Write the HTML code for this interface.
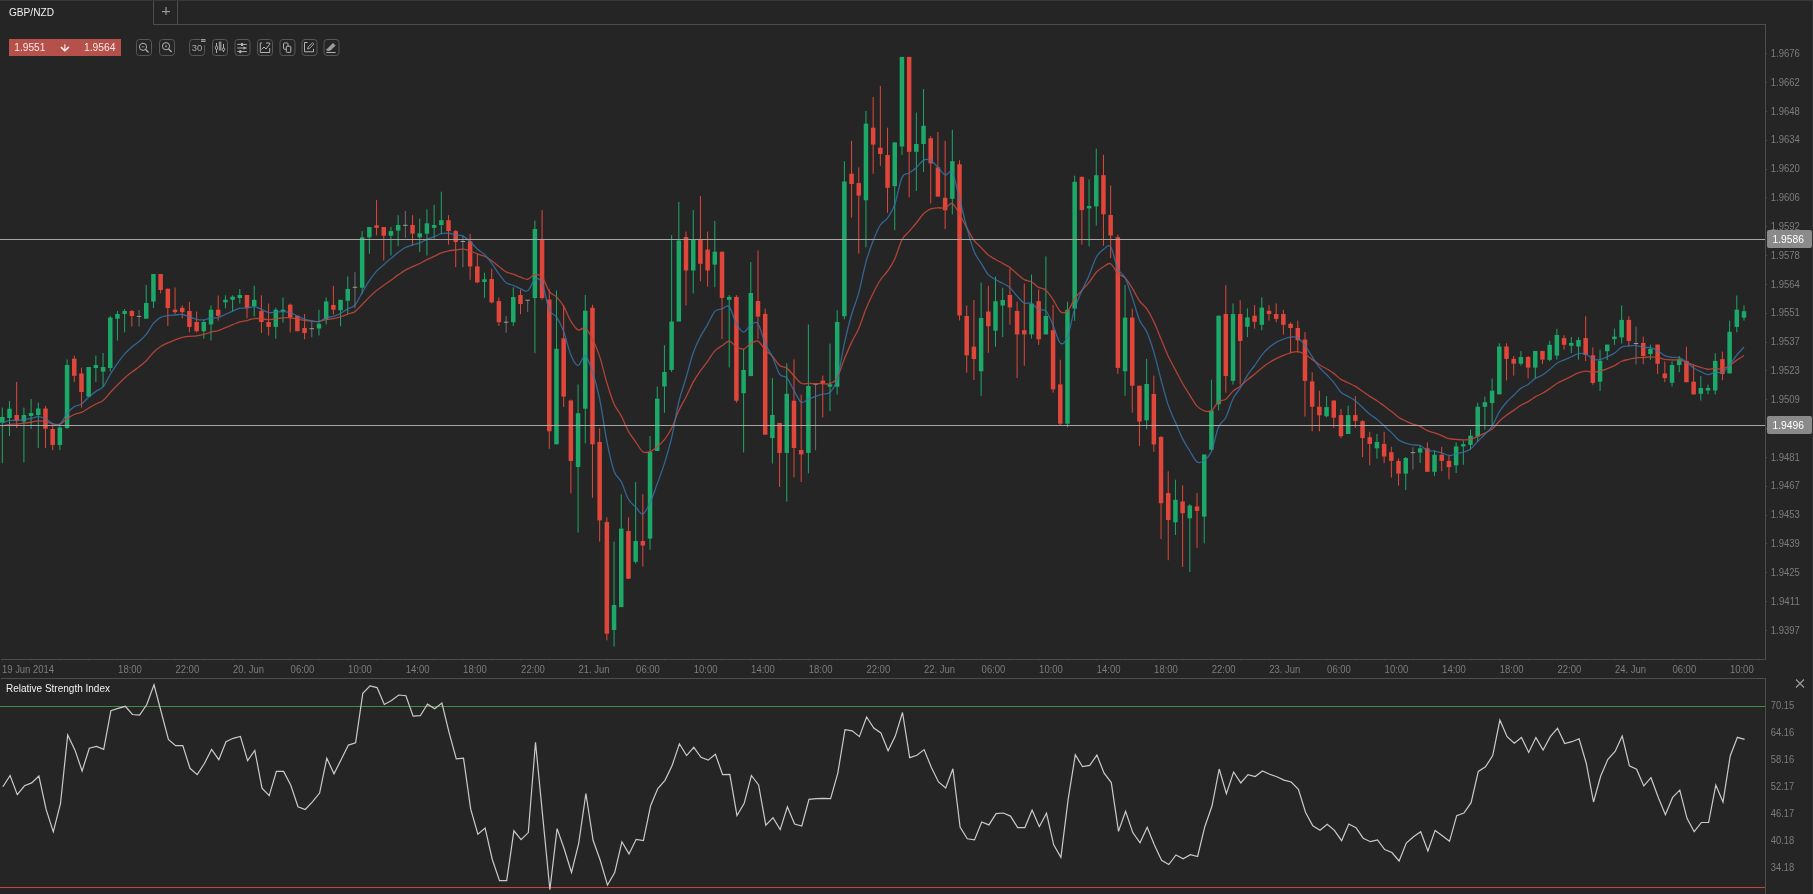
<!DOCTYPE html>
<html><head><meta charset="utf-8"><style>
html,body{margin:0;padding:0;background:#252525;width:1813px;height:894px;overflow:hidden;font-family:"Liberation Sans",sans-serif}
</style></head><body>
<svg width="1813" height="894" viewBox="0 0 1813 894" style="position:absolute;left:0;top:0;will-change:transform"><rect x="0" y="0" width="1813" height="1" fill="#383838"/><rect x="1812" y="0" width="1" height="894" fill="#333333"/><text x="9.0" y="16.0" font-size="11" fill="#f2f2f2" textLength="45" lengthAdjust="spacingAndGlyphs" font-family="Liberation Sans, sans-serif">GBP/NZD</text><rect x="153" y="1" width="1" height="23" fill="#4d4d4d"/><rect x="177" y="1" width="1" height="23" fill="#4d4d4d"/><rect x="153" y="24" width="1613" height="1" fill="#4d4d4d"/><rect x="162" y="11" width="8" height="1.2" fill="#999"/><rect x="165.4" y="7" width="1.2" height="8" fill="#999"/><rect x="1765" y="24" width="1" height="636" fill="#4d4d4d"/><rect x="1" y="659" width="1765" height="1" fill="#4d4d4d"/><rect x="1" y="678" width="1765" height="1" fill="#4d4d4d"/><rect x="1765" y="678" width="1" height="216" fill="#4d4d4d"/><rect x="1.80" y="407.6" width="1" height="55.6" fill="#1ca868"/><rect x="0.05" y="417.0" width="4.5" height="5.6" fill="#1ca868"/><rect x="9.00" y="401.0" width="1" height="35.0" fill="#1ca868"/><rect x="7.25" y="408.7" width="4.5" height="9.3" fill="#1ca868"/><rect x="16.19" y="382.0" width="1" height="46.0" fill="#e0473a"/><rect x="14.44" y="415.0" width="4.5" height="6.0" fill="#e0473a"/><rect x="23.39" y="407.6" width="1" height="54.9" fill="#1ca868"/><rect x="21.64" y="415.0" width="4.5" height="6.6" fill="#1ca868"/><rect x="30.59" y="399.0" width="1" height="30.0" fill="#1ca868"/><rect x="28.84" y="413.0" width="4.5" height="3.0" fill="#1ca868"/><rect x="37.79" y="402.6" width="1" height="45.4" fill="#1ca868"/><rect x="36.04" y="408.5" width="4.5" height="6.5" fill="#1ca868"/><rect x="44.98" y="405.7" width="1" height="42.3" fill="#e0473a"/><rect x="43.23" y="408.5" width="4.5" height="20.2" fill="#e0473a"/><rect x="52.18" y="424.5" width="1" height="25.5" fill="#e0473a"/><rect x="50.43" y="429.0" width="4.5" height="16.0" fill="#e0473a"/><rect x="59.38" y="424.5" width="1" height="25.5" fill="#1ca868"/><rect x="57.63" y="427.5" width="4.5" height="17.5" fill="#1ca868"/><rect x="66.57" y="359.4" width="1" height="69.6" fill="#1ca868"/><rect x="64.82" y="365.0" width="4.5" height="63.0" fill="#1ca868"/><rect x="73.77" y="355.6" width="1" height="26.4" fill="#e0473a"/><rect x="72.02" y="358.7" width="4.5" height="17.1" fill="#e0473a"/><rect x="80.97" y="367.6" width="1" height="40.0" fill="#e0473a"/><rect x="79.22" y="373.5" width="4.5" height="18.5" fill="#e0473a"/><rect x="88.17" y="367.0" width="1" height="29.7" fill="#1ca868"/><rect x="86.42" y="367.0" width="4.5" height="29.7" fill="#1ca868"/><rect x="95.36" y="355.6" width="1" height="26.4" fill="#1ca868"/><rect x="93.61" y="365.0" width="4.5" height="3.0" fill="#1ca868"/><rect x="102.56" y="353.0" width="1" height="34.0" fill="#1ca868"/><rect x="100.81" y="367.0" width="4.5" height="4.6" fill="#1ca868"/><rect x="109.76" y="316.0" width="1" height="55.6" fill="#1ca868"/><rect x="108.01" y="317.6" width="4.5" height="50.4" fill="#1ca868"/><rect x="116.95" y="311.0" width="1" height="29.6" fill="#1ca868"/><rect x="115.20" y="314.0" width="4.5" height="4.7" fill="#1ca868"/><rect x="124.15" y="309.0" width="1" height="23.4" fill="#1ca868"/><rect x="122.40" y="311.0" width="4.5" height="3.0" fill="#1ca868"/><rect x="131.35" y="310.0" width="1" height="16.5" fill="#e0473a"/><rect x="129.60" y="311.0" width="4.5" height="5.0" fill="#e0473a"/><rect x="138.55" y="310.0" width="1" height="16.5" fill="#6e6e6e"/><rect x="136.80" y="315.9" width="4.5" height="1.0" fill="#9a9a9a"/><rect x="145.74" y="285.0" width="1" height="33.7" fill="#1ca868"/><rect x="143.99" y="303.0" width="4.5" height="15.7" fill="#1ca868"/><rect x="152.94" y="274.0" width="1" height="34.0" fill="#1ca868"/><rect x="151.19" y="274.0" width="4.5" height="27.6" fill="#1ca868"/><rect x="160.14" y="274.0" width="1" height="19.4" fill="#e0473a"/><rect x="158.39" y="274.0" width="4.5" height="16.0" fill="#e0473a"/><rect x="167.33" y="288.7" width="1" height="37.3" fill="#e0473a"/><rect x="165.58" y="288.7" width="4.5" height="19.3" fill="#e0473a"/><rect x="174.53" y="287.5" width="1" height="26.5" fill="#e0473a"/><rect x="172.78" y="309.7" width="4.5" height="2.4" fill="#e0473a"/><rect x="181.73" y="305.4" width="1" height="12.9" fill="#e0473a"/><rect x="179.98" y="307.8" width="4.5" height="4.3" fill="#e0473a"/><rect x="188.92" y="301.7" width="1" height="30.7" fill="#e0473a"/><rect x="187.17" y="311.0" width="4.5" height="15.9" fill="#e0473a"/><rect x="196.12" y="311.5" width="1" height="20.9" fill="#e0473a"/><rect x="194.37" y="322.0" width="4.5" height="9.2" fill="#e0473a"/><rect x="203.32" y="320.0" width="1" height="18.6" fill="#1ca868"/><rect x="201.57" y="322.0" width="4.5" height="9.2" fill="#1ca868"/><rect x="210.52" y="305.4" width="1" height="35.0" fill="#1ca868"/><rect x="208.77" y="309.7" width="4.5" height="14.7" fill="#1ca868"/><rect x="217.71" y="295.5" width="1" height="25.2" fill="#e0473a"/><rect x="215.96" y="309.7" width="4.5" height="6.1" fill="#e0473a"/><rect x="224.91" y="295.3" width="1" height="13.1" fill="#1ca868"/><rect x="223.16" y="299.8" width="4.5" height="2.5" fill="#1ca868"/><rect x="232.11" y="295.3" width="1" height="16.2" fill="#1ca868"/><rect x="230.36" y="296.7" width="4.5" height="3.1" fill="#1ca868"/><rect x="239.30" y="289.0" width="1" height="14.5" fill="#1ca868"/><rect x="237.55" y="295.0" width="4.5" height="3.0" fill="#1ca868"/><rect x="246.50" y="295.0" width="1" height="23.3" fill="#e0473a"/><rect x="244.75" y="295.0" width="4.5" height="12.8" fill="#e0473a"/><rect x="253.70" y="285.7" width="1" height="30.7" fill="#1ca868"/><rect x="251.95" y="299.8" width="4.5" height="6.2" fill="#1ca868"/><rect x="260.90" y="295.3" width="1" height="37.7" fill="#e0473a"/><rect x="259.15" y="311.0" width="4.5" height="11.0" fill="#e0473a"/><rect x="268.09" y="303.5" width="1" height="32.0" fill="#e0473a"/><rect x="266.34" y="322.0" width="4.5" height="4.9" fill="#e0473a"/><rect x="275.29" y="307.8" width="1" height="30.8" fill="#1ca868"/><rect x="273.54" y="309.7" width="4.5" height="17.2" fill="#1ca868"/><rect x="282.49" y="297.4" width="1" height="25.2" fill="#1ca868"/><rect x="280.74" y="309.7" width="4.5" height="1.8" fill="#1ca868"/><rect x="289.68" y="303.5" width="1" height="28.9" fill="#e0473a"/><rect x="287.93" y="304.7" width="4.5" height="13.0" fill="#e0473a"/><rect x="296.88" y="315.8" width="1" height="15.4" fill="#e0473a"/><rect x="295.13" y="315.8" width="4.5" height="15.4" fill="#e0473a"/><rect x="304.08" y="314.0" width="1" height="25.2" fill="#e0473a"/><rect x="302.33" y="328.0" width="4.5" height="5.0" fill="#e0473a"/><rect x="311.28" y="321.4" width="1" height="16.0" fill="#6e6e6e"/><rect x="309.53" y="328.2" width="4.5" height="1.0" fill="#9a9a9a"/><rect x="318.47" y="309.7" width="1" height="25.8" fill="#1ca868"/><rect x="316.72" y="323.8" width="4.5" height="4.7" fill="#1ca868"/><rect x="325.67" y="297.4" width="1" height="27.0" fill="#1ca868"/><rect x="323.92" y="301.4" width="4.5" height="18.1" fill="#1ca868"/><rect x="332.87" y="285.7" width="1" height="28.9" fill="#e0473a"/><rect x="331.12" y="305.0" width="4.5" height="4.7" fill="#e0473a"/><rect x="340.06" y="299.8" width="1" height="26.5" fill="#1ca868"/><rect x="338.31" y="299.8" width="4.5" height="10.5" fill="#1ca868"/><rect x="347.26" y="276.4" width="1" height="37.8" fill="#1ca868"/><rect x="345.51" y="289.0" width="4.5" height="11.8" fill="#1ca868"/><rect x="354.46" y="272.2" width="1" height="36.1" fill="#6e6e6e"/><rect x="352.71" y="286.8" width="4.5" height="1.0" fill="#9a9a9a"/><rect x="361.66" y="231.1" width="1" height="62.9" fill="#1ca868"/><rect x="359.91" y="237.3" width="4.5" height="50.4" fill="#1ca868"/><rect x="368.85" y="227.0" width="1" height="26.8" fill="#1ca868"/><rect x="367.10" y="227.0" width="4.5" height="10.3" fill="#1ca868"/><rect x="376.05" y="200.1" width="1" height="35.2" fill="#e0473a"/><rect x="374.30" y="225.3" width="4.5" height="2.5" fill="#e0473a"/><rect x="383.25" y="227.0" width="1" height="33.5" fill="#e0473a"/><rect x="381.50" y="227.0" width="4.5" height="8.7" fill="#e0473a"/><rect x="390.44" y="227.0" width="1" height="28.5" fill="#1ca868"/><rect x="388.69" y="231.1" width="4.5" height="4.6" fill="#1ca868"/><rect x="397.64" y="215.2" width="1" height="31.0" fill="#1ca868"/><rect x="395.89" y="225.0" width="4.5" height="5.6" fill="#1ca868"/><rect x="404.84" y="211.0" width="1" height="26.9" fill="#6e6e6e"/><rect x="403.09" y="224.8" width="4.5" height="1.0" fill="#9a9a9a"/><rect x="412.04" y="215.2" width="1" height="30.2" fill="#e0473a"/><rect x="410.29" y="225.0" width="4.5" height="8.7" fill="#e0473a"/><rect x="419.23" y="218.6" width="1" height="33.5" fill="#1ca868"/><rect x="417.48" y="233.3" width="4.5" height="4.0" fill="#1ca868"/><rect x="426.43" y="209.3" width="1" height="46.2" fill="#1ca868"/><rect x="424.68" y="223.3" width="4.5" height="10.4" fill="#1ca868"/><rect x="433.63" y="204.8" width="1" height="33.9" fill="#1ca868"/><rect x="431.88" y="225.0" width="4.5" height="2.8" fill="#1ca868"/><rect x="440.82" y="191.7" width="1" height="42.0" fill="#1ca868"/><rect x="439.07" y="220.2" width="4.5" height="4.8" fill="#1ca868"/><rect x="448.02" y="215.2" width="1" height="29.4" fill="#e0473a"/><rect x="446.27" y="220.2" width="4.5" height="10.9" fill="#e0473a"/><rect x="455.22" y="230.0" width="1" height="37.2" fill="#e0473a"/><rect x="453.47" y="231.1" width="4.5" height="10.9" fill="#e0473a"/><rect x="462.41" y="235.3" width="1" height="31.9" fill="#6e6e6e"/><rect x="460.66" y="241.0" width="4.5" height="1.0" fill="#9a9a9a"/><rect x="469.61" y="233.7" width="1" height="46.1" fill="#e0473a"/><rect x="467.86" y="241.2" width="4.5" height="25.2" fill="#e0473a"/><rect x="476.81" y="253.8" width="1" height="29.4" fill="#e0473a"/><rect x="475.06" y="266.4" width="4.5" height="15.9" fill="#e0473a"/><rect x="484.01" y="272.6" width="1" height="25.2" fill="#1ca868"/><rect x="482.26" y="279.3" width="4.5" height="2.7" fill="#1ca868"/><rect x="491.20" y="268.6" width="1" height="34.7" fill="#e0473a"/><rect x="489.45" y="279.0" width="4.5" height="23.4" fill="#e0473a"/><rect x="498.40" y="297.4" width="1" height="28.6" fill="#e0473a"/><rect x="496.65" y="301.1" width="4.5" height="21.1" fill="#e0473a"/><rect x="505.60" y="315.9" width="1" height="16.8" fill="#6e6e6e"/><rect x="503.85" y="321.7" width="4.5" height="1.0" fill="#9a9a9a"/><rect x="512.79" y="287.3" width="1" height="38.7" fill="#1ca868"/><rect x="511.04" y="297.0" width="4.5" height="25.2" fill="#1ca868"/><rect x="519.99" y="289.5" width="1" height="24.6" fill="#e0473a"/><rect x="518.24" y="295.0" width="4.5" height="9.0" fill="#e0473a"/><rect x="527.19" y="300.2" width="1" height="11.7" fill="#6e6e6e"/><rect x="525.44" y="299.7" width="4.5" height="1.0" fill="#9a9a9a"/><rect x="534.39" y="220.6" width="1" height="132.6" fill="#1ca868"/><rect x="532.64" y="229.0" width="4.5" height="69.0" fill="#1ca868"/><rect x="541.58" y="210.0" width="1" height="89.6" fill="#e0473a"/><rect x="539.83" y="239.8" width="4.5" height="58.2" fill="#e0473a"/><rect x="548.78" y="289.5" width="1" height="159.4" fill="#e0473a"/><rect x="547.03" y="299.6" width="4.5" height="131.7" fill="#e0473a"/><rect x="555.98" y="290.6" width="1" height="153.7" fill="#1ca868"/><rect x="554.23" y="348.8" width="4.5" height="95.5" fill="#1ca868"/><rect x="563.17" y="305.0" width="1" height="102.0" fill="#e0473a"/><rect x="561.42" y="338.3" width="4.5" height="58.3" fill="#e0473a"/><rect x="570.37" y="399.6" width="1" height="93.7" fill="#e0473a"/><rect x="568.62" y="400.5" width="4.5" height="60.5" fill="#e0473a"/><rect x="577.57" y="384.5" width="1" height="148.0" fill="#1ca868"/><rect x="575.82" y="413.2" width="4.5" height="53.8" fill="#1ca868"/><rect x="584.77" y="295.0" width="1" height="148.4" fill="#1ca868"/><rect x="583.02" y="310.7" width="4.5" height="98.0" fill="#1ca868"/><rect x="591.96" y="304.7" width="1" height="193.1" fill="#e0473a"/><rect x="590.21" y="307.8" width="4.5" height="136.5" fill="#e0473a"/><rect x="599.16" y="428.3" width="1" height="113.3" fill="#e0473a"/><rect x="597.41" y="441.9" width="4.5" height="78.5" fill="#e0473a"/><rect x="606.36" y="517.4" width="1" height="122.9" fill="#e0473a"/><rect x="604.61" y="522.0" width="4.5" height="111.7" fill="#e0473a"/><rect x="613.55" y="541.6" width="1" height="104.8" fill="#1ca868"/><rect x="611.80" y="605.0" width="4.5" height="25.0" fill="#1ca868"/><rect x="620.75" y="494.2" width="1" height="112.9" fill="#1ca868"/><rect x="619.00" y="528.6" width="4.5" height="78.5" fill="#1ca868"/><rect x="627.95" y="517.4" width="1" height="61.3" fill="#e0473a"/><rect x="626.20" y="531.0" width="4.5" height="47.7" fill="#e0473a"/><rect x="635.15" y="482.0" width="1" height="81.6" fill="#1ca868"/><rect x="633.40" y="541.0" width="4.5" height="20.8" fill="#1ca868"/><rect x="642.34" y="494.2" width="1" height="72.4" fill="#e0473a"/><rect x="640.59" y="541.0" width="4.5" height="4.5" fill="#e0473a"/><rect x="649.54" y="435.9" width="1" height="113.8" fill="#1ca868"/><rect x="647.79" y="451.9" width="4.5" height="86.7" fill="#1ca868"/><rect x="656.74" y="386.6" width="1" height="64.4" fill="#1ca868"/><rect x="654.99" y="398.7" width="4.5" height="52.3" fill="#1ca868"/><rect x="663.93" y="345.2" width="1" height="67.6" fill="#1ca868"/><rect x="662.18" y="372.0" width="4.5" height="14.5" fill="#1ca868"/><rect x="671.13" y="235.1" width="1" height="136.9" fill="#1ca868"/><rect x="669.38" y="321.5" width="4.5" height="48.4" fill="#1ca868"/><rect x="678.33" y="202.0" width="1" height="119.5" fill="#1ca868"/><rect x="676.58" y="240.5" width="4.5" height="81.0" fill="#1ca868"/><rect x="685.53" y="231.6" width="1" height="73.8" fill="#e0473a"/><rect x="683.78" y="237.0" width="4.5" height="33.5" fill="#e0473a"/><rect x="692.72" y="210.1" width="1" height="83.3" fill="#1ca868"/><rect x="690.97" y="239.7" width="4.5" height="30.8" fill="#1ca868"/><rect x="699.92" y="195.9" width="1" height="85.4" fill="#e0473a"/><rect x="698.17" y="239.7" width="4.5" height="24.1" fill="#e0473a"/><rect x="707.12" y="231.6" width="1" height="55.0" fill="#e0473a"/><rect x="705.37" y="249.6" width="4.5" height="20.9" fill="#e0473a"/><rect x="714.31" y="220.9" width="1" height="66.3" fill="#1ca868"/><rect x="712.56" y="251.7" width="4.5" height="12.9" fill="#1ca868"/><rect x="721.51" y="251.7" width="1" height="87.3" fill="#e0473a"/><rect x="719.76" y="251.7" width="4.5" height="46.2" fill="#e0473a"/><rect x="728.71" y="295.0" width="1" height="72.5" fill="#1ca868"/><rect x="726.96" y="296.9" width="4.5" height="2.9" fill="#1ca868"/><rect x="735.90" y="295.2" width="1" height="107.5" fill="#e0473a"/><rect x="734.15" y="296.9" width="4.5" height="103.8" fill="#e0473a"/><rect x="743.10" y="349.0" width="1" height="103.4" fill="#1ca868"/><rect x="741.35" y="370.0" width="4.5" height="23.3" fill="#1ca868"/><rect x="750.30" y="262.0" width="1" height="114.1" fill="#1ca868"/><rect x="748.55" y="293.0" width="4.5" height="83.1" fill="#1ca868"/><rect x="757.50" y="250.4" width="1" height="88.6" fill="#e0473a"/><rect x="755.75" y="301.0" width="4.5" height="15.6" fill="#e0473a"/><rect x="764.69" y="308.5" width="1" height="126.2" fill="#e0473a"/><rect x="762.94" y="313.9" width="4.5" height="120.8" fill="#e0473a"/><rect x="771.89" y="378.0" width="1" height="85.5" fill="#1ca868"/><rect x="770.14" y="415.0" width="4.5" height="23.1" fill="#1ca868"/><rect x="779.09" y="422.9" width="1" height="64.0" fill="#e0473a"/><rect x="777.34" y="422.9" width="4.5" height="30.0" fill="#e0473a"/><rect x="786.28" y="363.3" width="1" height="138.3" fill="#1ca868"/><rect x="784.53" y="393.8" width="4.5" height="59.1" fill="#1ca868"/><rect x="793.48" y="359.4" width="1" height="118.1" fill="#e0473a"/><rect x="791.73" y="400.7" width="4.5" height="47.3" fill="#e0473a"/><rect x="800.68" y="394.6" width="1" height="87.4" fill="#e0473a"/><rect x="798.93" y="450.0" width="4.5" height="4.4" fill="#e0473a"/><rect x="807.88" y="324.4" width="1" height="148.9" fill="#1ca868"/><rect x="806.13" y="386.0" width="4.5" height="66.9" fill="#1ca868"/><rect x="815.07" y="384.2" width="1" height="66.2" fill="#6e6e6e"/><rect x="813.32" y="383.7" width="4.5" height="1.0" fill="#9a9a9a"/><rect x="822.27" y="375.6" width="1" height="41.9" fill="#e0473a"/><rect x="820.52" y="380.6" width="4.5" height="2.9" fill="#e0473a"/><rect x="829.47" y="343.6" width="1" height="67.4" fill="#1ca868"/><rect x="827.72" y="384.2" width="4.5" height="2.5" fill="#1ca868"/><rect x="836.66" y="310.2" width="1" height="84.4" fill="#1ca868"/><rect x="834.91" y="322.0" width="4.5" height="64.7" fill="#1ca868"/><rect x="843.86" y="161.2" width="1" height="158.1" fill="#1ca868"/><rect x="842.11" y="181.5" width="4.5" height="134.7" fill="#1ca868"/><rect x="851.06" y="140.8" width="1" height="76.8" fill="#e0473a"/><rect x="849.31" y="173.7" width="4.5" height="10.3" fill="#e0473a"/><rect x="858.26" y="167.4" width="1" height="86.2" fill="#e0473a"/><rect x="856.51" y="183.1" width="4.5" height="12.5" fill="#e0473a"/><rect x="865.45" y="111.0" width="1" height="136.3" fill="#1ca868"/><rect x="863.70" y="123.6" width="4.5" height="76.7" fill="#1ca868"/><rect x="872.65" y="97.0" width="1" height="76.7" fill="#e0473a"/><rect x="870.90" y="127.7" width="4.5" height="16.9" fill="#e0473a"/><rect x="879.85" y="86.0" width="1" height="79.9" fill="#e0473a"/><rect x="878.10" y="147.7" width="4.5" height="6.3" fill="#e0473a"/><rect x="887.04" y="127.7" width="1" height="85.2" fill="#e0473a"/><rect x="885.29" y="155.0" width="4.5" height="32.8" fill="#e0473a"/><rect x="894.24" y="142.4" width="1" height="87.7" fill="#1ca868"/><rect x="892.49" y="142.4" width="4.5" height="43.8" fill="#1ca868"/><rect x="901.44" y="56.9" width="1" height="98.1" fill="#1ca868"/><rect x="899.69" y="56.9" width="4.5" height="89.6" fill="#1ca868"/><rect x="908.64" y="56.9" width="1" height="140.3" fill="#e0473a"/><rect x="906.89" y="56.9" width="4.5" height="94.9" fill="#e0473a"/><rect x="915.83" y="112.6" width="1" height="78.4" fill="#1ca868"/><rect x="914.08" y="144.0" width="4.5" height="7.8" fill="#1ca868"/><rect x="923.03" y="89.0" width="1" height="83.1" fill="#1ca868"/><rect x="921.28" y="125.8" width="4.5" height="18.2" fill="#1ca868"/><rect x="930.23" y="136.1" width="1" height="67.4" fill="#e0473a"/><rect x="928.48" y="138.3" width="4.5" height="25.1" fill="#e0473a"/><rect x="937.42" y="132.0" width="1" height="64.6" fill="#e0473a"/><rect x="935.67" y="167.4" width="4.5" height="29.2" fill="#e0473a"/><rect x="944.62" y="140.8" width="1" height="88.3" fill="#e0473a"/><rect x="942.87" y="197.8" width="4.5" height="12.5" fill="#e0473a"/><rect x="951.82" y="129.9" width="1" height="84.5" fill="#1ca868"/><rect x="950.07" y="161.2" width="4.5" height="37.6" fill="#1ca868"/><rect x="959.02" y="160.2" width="1" height="160.2" fill="#e0473a"/><rect x="957.27" y="164.3" width="4.5" height="151.2" fill="#e0473a"/><rect x="966.21" y="305.6" width="1" height="67.0" fill="#e0473a"/><rect x="964.46" y="316.0" width="4.5" height="39.3" fill="#e0473a"/><rect x="973.41" y="300.0" width="1" height="80.0" fill="#e0473a"/><rect x="971.66" y="346.7" width="4.5" height="12.3" fill="#e0473a"/><rect x="980.61" y="282.7" width="1" height="113.3" fill="#1ca868"/><rect x="978.86" y="318.0" width="4.5" height="53.3" fill="#1ca868"/><rect x="987.80" y="286.0" width="1" height="66.9" fill="#e0473a"/><rect x="986.05" y="311.5" width="4.5" height="14.8" fill="#e0473a"/><rect x="995.00" y="276.6" width="1" height="70.1" fill="#1ca868"/><rect x="993.25" y="301.2" width="4.5" height="29.5" fill="#1ca868"/><rect x="1002.20" y="287.7" width="1" height="49.2" fill="#1ca868"/><rect x="1000.45" y="300.0" width="4.5" height="5.6" fill="#1ca868"/><rect x="1009.40" y="268.7" width="1" height="55.9" fill="#e0473a"/><rect x="1007.65" y="295.0" width="4.5" height="12.4" fill="#e0473a"/><rect x="1016.59" y="301.7" width="1" height="76.3" fill="#e0473a"/><rect x="1014.84" y="311.0" width="4.5" height="23.4" fill="#e0473a"/><rect x="1023.79" y="283.5" width="1" height="82.2" fill="#e0473a"/><rect x="1022.04" y="330.2" width="4.5" height="4.2" fill="#e0473a"/><rect x="1030.99" y="274.6" width="1" height="64.0" fill="#1ca868"/><rect x="1029.24" y="303.7" width="4.5" height="30.7" fill="#1ca868"/><rect x="1038.18" y="289.4" width="1" height="55.6" fill="#e0473a"/><rect x="1036.43" y="301.2" width="4.5" height="38.1" fill="#e0473a"/><rect x="1045.38" y="256.4" width="1" height="78.0" fill="#1ca868"/><rect x="1043.63" y="316.0" width="4.5" height="18.4" fill="#1ca868"/><rect x="1052.58" y="304.9" width="1" height="87.8" fill="#e0473a"/><rect x="1050.83" y="330.2" width="4.5" height="59.1" fill="#e0473a"/><rect x="1059.77" y="359.8" width="1" height="65.7" fill="#e0473a"/><rect x="1058.02" y="384.4" width="4.5" height="39.3" fill="#e0473a"/><rect x="1066.97" y="301.7" width="1" height="125.5" fill="#1ca868"/><rect x="1065.22" y="309.8" width="4.5" height="113.9" fill="#1ca868"/><rect x="1074.17" y="175.7" width="1" height="145.2" fill="#1ca868"/><rect x="1072.42" y="181.8" width="4.5" height="126.8" fill="#1ca868"/><rect x="1081.37" y="176.4" width="1" height="68.2" fill="#e0473a"/><rect x="1079.62" y="176.9" width="4.5" height="33.2" fill="#e0473a"/><rect x="1088.56" y="179.4" width="1" height="66.9" fill="#1ca868"/><rect x="1086.81" y="206.0" width="4.5" height="2.4" fill="#1ca868"/><rect x="1095.76" y="148.6" width="1" height="77.0" fill="#1ca868"/><rect x="1094.01" y="175.2" width="4.5" height="31.2" fill="#1ca868"/><rect x="1102.96" y="154.8" width="1" height="91.0" fill="#e0473a"/><rect x="1101.21" y="175.2" width="4.5" height="39.1" fill="#e0473a"/><rect x="1110.15" y="185.5" width="1" height="72.6" fill="#e0473a"/><rect x="1108.40" y="215.0" width="4.5" height="20.5" fill="#e0473a"/><rect x="1117.35" y="234.7" width="1" height="139.3" fill="#e0473a"/><rect x="1115.60" y="237.2" width="4.5" height="130.7" fill="#e0473a"/><rect x="1124.55" y="285.0" width="1" height="110.8" fill="#1ca868"/><rect x="1122.80" y="317.6" width="4.5" height="53.7" fill="#1ca868"/><rect x="1131.75" y="308.5" width="1" height="104.1" fill="#e0473a"/><rect x="1130.00" y="317.6" width="4.5" height="68.1" fill="#e0473a"/><rect x="1138.94" y="385.7" width="1" height="60.4" fill="#e0473a"/><rect x="1137.19" y="385.7" width="4.5" height="35.9" fill="#e0473a"/><rect x="1146.14" y="358.9" width="1" height="70.4" fill="#1ca868"/><rect x="1144.39" y="384.0" width="4.5" height="36.3" fill="#1ca868"/><rect x="1153.34" y="375.6" width="1" height="76.2" fill="#e0473a"/><rect x="1151.59" y="394.0" width="4.5" height="50.4" fill="#e0473a"/><rect x="1160.53" y="436.0" width="1" height="103.0" fill="#e0473a"/><rect x="1158.78" y="437.0" width="4.5" height="66.2" fill="#e0473a"/><rect x="1167.73" y="471.3" width="1" height="88.9" fill="#e0473a"/><rect x="1165.98" y="493.0" width="4.5" height="27.0" fill="#e0473a"/><rect x="1174.93" y="479.7" width="1" height="55.3" fill="#1ca868"/><rect x="1173.18" y="499.8" width="4.5" height="22.5" fill="#1ca868"/><rect x="1182.13" y="485.4" width="1" height="81.5" fill="#e0473a"/><rect x="1180.38" y="501.5" width="4.5" height="11.7" fill="#e0473a"/><rect x="1189.32" y="504.2" width="1" height="67.8" fill="#1ca868"/><rect x="1187.57" y="505.5" width="4.5" height="12.8" fill="#1ca868"/><rect x="1196.52" y="493.0" width="1" height="54.8" fill="#e0473a"/><rect x="1194.77" y="506.5" width="4.5" height="4.4" fill="#e0473a"/><rect x="1203.72" y="454.5" width="1" height="88.9" fill="#1ca868"/><rect x="1201.97" y="454.5" width="4.5" height="62.1" fill="#1ca868"/><rect x="1210.91" y="379.7" width="1" height="71.3" fill="#1ca868"/><rect x="1209.16" y="410.4" width="4.5" height="39.4" fill="#1ca868"/><rect x="1218.11" y="315.7" width="1" height="94.7" fill="#1ca868"/><rect x="1216.36" y="315.7" width="4.5" height="88.6" fill="#1ca868"/><rect x="1225.31" y="285.4" width="1" height="107.3" fill="#e0473a"/><rect x="1223.56" y="314.0" width="4.5" height="62.0" fill="#e0473a"/><rect x="1232.51" y="303.4" width="1" height="81.2" fill="#1ca868"/><rect x="1230.76" y="314.0" width="4.5" height="66.9" fill="#1ca868"/><rect x="1239.70" y="300.2" width="1" height="84.4" fill="#e0473a"/><rect x="1237.95" y="314.0" width="4.5" height="27.0" fill="#e0473a"/><rect x="1246.90" y="308.3" width="1" height="28.8" fill="#1ca868"/><rect x="1245.15" y="317.4" width="4.5" height="9.4" fill="#1ca868"/><rect x="1254.10" y="305.1" width="1" height="23.6" fill="#e0473a"/><rect x="1252.35" y="315.7" width="4.5" height="6.1" fill="#e0473a"/><rect x="1261.29" y="297.2" width="1" height="33.2" fill="#1ca868"/><rect x="1259.54" y="307.6" width="4.5" height="17.2" fill="#1ca868"/><rect x="1268.49" y="305.1" width="1" height="15.5" fill="#e0473a"/><rect x="1266.74" y="310.8" width="4.5" height="3.2" fill="#e0473a"/><rect x="1275.69" y="303.4" width="1" height="18.9" fill="#e0473a"/><rect x="1273.94" y="314.0" width="4.5" height="4.9" fill="#e0473a"/><rect x="1282.89" y="310.0" width="1" height="24.6" fill="#e0473a"/><rect x="1281.14" y="314.0" width="4.5" height="10.8" fill="#e0473a"/><rect x="1290.08" y="322.3" width="1" height="31.0" fill="#e0473a"/><rect x="1288.33" y="323.8" width="4.5" height="4.2" fill="#e0473a"/><rect x="1297.28" y="320.6" width="1" height="32.0" fill="#e0473a"/><rect x="1295.53" y="328.0" width="4.5" height="12.3" fill="#e0473a"/><rect x="1304.48" y="332.2" width="1" height="84.4" fill="#e0473a"/><rect x="1302.73" y="339.5" width="4.5" height="41.4" fill="#e0473a"/><rect x="1311.67" y="372.3" width="1" height="59.0" fill="#e0473a"/><rect x="1309.92" y="381.4" width="4.5" height="25.3" fill="#e0473a"/><rect x="1318.87" y="390.7" width="1" height="40.6" fill="#e0473a"/><rect x="1317.12" y="406.7" width="4.5" height="8.6" fill="#e0473a"/><rect x="1326.07" y="396.2" width="1" height="21.1" fill="#1ca868"/><rect x="1324.32" y="407.1" width="4.5" height="9.2" fill="#1ca868"/><rect x="1333.26" y="400.5" width="1" height="27.4" fill="#e0473a"/><rect x="1331.51" y="400.5" width="4.5" height="17.2" fill="#e0473a"/><rect x="1340.46" y="409.0" width="1" height="29.1" fill="#e0473a"/><rect x="1338.71" y="415.1" width="4.5" height="21.1" fill="#e0473a"/><rect x="1347.66" y="405.6" width="1" height="28.4" fill="#1ca868"/><rect x="1345.91" y="415.1" width="4.5" height="18.9" fill="#1ca868"/><rect x="1354.86" y="396.2" width="1" height="31.7" fill="#e0473a"/><rect x="1353.11" y="415.1" width="4.5" height="5.8" fill="#e0473a"/><rect x="1362.05" y="420.2" width="1" height="36.8" fill="#e0473a"/><rect x="1360.30" y="421.2" width="4.5" height="16.9" fill="#e0473a"/><rect x="1369.25" y="431.8" width="1" height="33.5" fill="#e0473a"/><rect x="1367.50" y="437.2" width="4.5" height="6.7" fill="#e0473a"/><rect x="1376.45" y="434.0" width="1" height="24.7" fill="#1ca868"/><rect x="1374.70" y="442.0" width="4.5" height="6.3" fill="#1ca868"/><rect x="1383.64" y="431.8" width="1" height="31.3" fill="#e0473a"/><rect x="1381.89" y="443.9" width="4.5" height="12.6" fill="#e0473a"/><rect x="1390.84" y="446.8" width="1" height="30.8" fill="#e0473a"/><rect x="1389.09" y="452.2" width="4.5" height="8.7" fill="#e0473a"/><rect x="1398.04" y="458.4" width="1" height="27.2" fill="#e0473a"/><rect x="1396.29" y="460.9" width="4.5" height="12.7" fill="#e0473a"/><rect x="1405.24" y="457.0" width="1" height="33.0" fill="#1ca868"/><rect x="1403.49" y="458.0" width="4.5" height="15.6" fill="#1ca868"/><rect x="1412.43" y="447.1" width="1" height="22.5" fill="#6e6e6e"/><rect x="1410.68" y="452.1" width="4.5" height="1.0" fill="#9a9a9a"/><rect x="1419.63" y="444.9" width="1" height="18.2" fill="#1ca868"/><rect x="1417.88" y="448.3" width="4.5" height="4.3" fill="#1ca868"/><rect x="1426.83" y="442.4" width="1" height="29.4" fill="#e0473a"/><rect x="1425.08" y="448.3" width="4.5" height="23.5" fill="#e0473a"/><rect x="1434.02" y="450.3" width="1" height="25.6" fill="#1ca868"/><rect x="1432.27" y="454.7" width="4.5" height="17.1" fill="#1ca868"/><rect x="1441.22" y="446.8" width="1" height="24.3" fill="#e0473a"/><rect x="1439.47" y="454.7" width="4.5" height="6.2" fill="#e0473a"/><rect x="1448.42" y="455.5" width="1" height="23.9" fill="#e0473a"/><rect x="1446.67" y="460.9" width="4.5" height="6.3" fill="#e0473a"/><rect x="1455.62" y="442.4" width="1" height="30.6" fill="#1ca868"/><rect x="1453.87" y="446.4" width="4.5" height="18.9" fill="#1ca868"/><rect x="1462.81" y="440.5" width="1" height="24.3" fill="#1ca868"/><rect x="1461.06" y="444.2" width="4.5" height="2.2" fill="#1ca868"/><rect x="1470.01" y="429.6" width="1" height="20.1" fill="#1ca868"/><rect x="1468.26" y="435.7" width="4.5" height="9.2" fill="#1ca868"/><rect x="1477.21" y="402.8" width="1" height="38.9" fill="#1ca868"/><rect x="1475.46" y="406.8" width="4.5" height="29.8" fill="#1ca868"/><rect x="1484.40" y="396.6" width="1" height="33.1" fill="#1ca868"/><rect x="1482.65" y="402.2" width="4.5" height="4.6" fill="#1ca868"/><rect x="1491.60" y="378.5" width="1" height="47.6" fill="#1ca868"/><rect x="1489.85" y="390.7" width="4.5" height="12.4" fill="#1ca868"/><rect x="1498.80" y="343.3" width="1" height="51.2" fill="#1ca868"/><rect x="1497.05" y="346.5" width="4.5" height="47.8" fill="#1ca868"/><rect x="1506.00" y="343.3" width="1" height="37.0" fill="#e0473a"/><rect x="1504.25" y="346.5" width="4.5" height="12.4" fill="#e0473a"/><rect x="1513.19" y="356.0" width="1" height="19.6" fill="#e0473a"/><rect x="1511.44" y="358.9" width="4.5" height="4.8" fill="#e0473a"/><rect x="1520.39" y="351.2" width="1" height="14.5" fill="#1ca868"/><rect x="1518.64" y="357.0" width="4.5" height="6.7" fill="#1ca868"/><rect x="1527.59" y="356.0" width="1" height="22.5" fill="#e0473a"/><rect x="1525.84" y="357.0" width="4.5" height="10.6" fill="#e0473a"/><rect x="1534.78" y="350.9" width="1" height="27.6" fill="#1ca868"/><rect x="1533.03" y="350.9" width="4.5" height="16.7" fill="#1ca868"/><rect x="1541.98" y="350.9" width="1" height="13.1" fill="#e0473a"/><rect x="1540.23" y="350.9" width="4.5" height="8.7" fill="#e0473a"/><rect x="1549.18" y="340.7" width="1" height="20.4" fill="#1ca868"/><rect x="1547.43" y="344.8" width="4.5" height="15.1" fill="#1ca868"/><rect x="1556.38" y="328.8" width="1" height="30.8" fill="#1ca868"/><rect x="1554.63" y="334.9" width="4.5" height="20.7" fill="#1ca868"/><rect x="1563.57" y="335.2" width="1" height="14.3" fill="#e0473a"/><rect x="1561.82" y="338.1" width="4.5" height="6.7" fill="#e0473a"/><rect x="1570.77" y="337.1" width="1" height="16.0" fill="#1ca868"/><rect x="1569.02" y="342.9" width="4.5" height="2.9" fill="#1ca868"/><rect x="1577.97" y="337.1" width="1" height="22.5" fill="#1ca868"/><rect x="1576.22" y="340.0" width="4.5" height="6.5" fill="#1ca868"/><rect x="1585.16" y="316.3" width="1" height="44.8" fill="#e0473a"/><rect x="1583.41" y="338.1" width="4.5" height="16.9" fill="#e0473a"/><rect x="1592.36" y="347.3" width="1" height="37.4" fill="#e0473a"/><rect x="1590.61" y="355.3" width="4.5" height="27.6" fill="#e0473a"/><rect x="1599.56" y="349.7" width="1" height="41.3" fill="#1ca868"/><rect x="1597.81" y="360.8" width="4.5" height="20.9" fill="#1ca868"/><rect x="1606.75" y="344.6" width="1" height="15.3" fill="#1ca868"/><rect x="1605.00" y="344.6" width="4.5" height="6.6" fill="#1ca868"/><rect x="1613.95" y="328.6" width="1" height="16.3" fill="#1ca868"/><rect x="1612.20" y="336.6" width="4.5" height="2.5" fill="#1ca868"/><rect x="1621.15" y="305.4" width="1" height="38.1" fill="#1ca868"/><rect x="1619.40" y="319.9" width="4.5" height="17.5" fill="#1ca868"/><rect x="1628.35" y="316.3" width="1" height="29.8" fill="#e0473a"/><rect x="1626.60" y="319.9" width="4.5" height="21.1" fill="#e0473a"/><rect x="1635.54" y="326.5" width="1" height="37.8" fill="#6e6e6e"/><rect x="1633.79" y="343.0" width="4.5" height="1.0" fill="#9a9a9a"/><rect x="1642.74" y="336.6" width="1" height="27.7" fill="#e0473a"/><rect x="1640.99" y="342.9" width="4.5" height="13.1" fill="#e0473a"/><rect x="1649.94" y="344.6" width="1" height="15.3" fill="#1ca868"/><rect x="1648.19" y="349.0" width="4.5" height="5.1" fill="#1ca868"/><rect x="1657.13" y="344.6" width="1" height="29.4" fill="#e0473a"/><rect x="1655.38" y="344.6" width="4.5" height="19.2" fill="#e0473a"/><rect x="1664.33" y="361.4" width="1" height="20.8" fill="#e0473a"/><rect x="1662.58" y="373.4" width="4.5" height="4.7" fill="#e0473a"/><rect x="1671.53" y="361.4" width="1" height="25.1" fill="#1ca868"/><rect x="1669.78" y="365.0" width="4.5" height="17.7" fill="#1ca868"/><rect x="1678.73" y="356.0" width="1" height="16.3" fill="#1ca868"/><rect x="1676.98" y="359.2" width="4.5" height="5.8" fill="#1ca868"/><rect x="1685.92" y="346.8" width="1" height="35.4" fill="#e0473a"/><rect x="1684.17" y="360.9" width="4.5" height="21.3" fill="#e0473a"/><rect x="1693.12" y="364.3" width="1" height="30.1" fill="#e0473a"/><rect x="1691.37" y="381.7" width="4.5" height="12.7" fill="#e0473a"/><rect x="1700.32" y="375.9" width="1" height="24.7" fill="#1ca868"/><rect x="1698.57" y="388.0" width="4.5" height="5.8" fill="#1ca868"/><rect x="1707.51" y="384.6" width="1" height="9.8" fill="#1ca868"/><rect x="1705.76" y="388.0" width="4.5" height="2.5" fill="#1ca868"/><rect x="1714.71" y="353.1" width="1" height="41.3" fill="#1ca868"/><rect x="1712.96" y="360.9" width="4.5" height="29.6" fill="#1ca868"/><rect x="1721.91" y="351.6" width="1" height="28.7" fill="#e0473a"/><rect x="1720.16" y="359.2" width="4.5" height="14.8" fill="#e0473a"/><rect x="1729.11" y="320.6" width="1" height="52.8" fill="#1ca868"/><rect x="1727.36" y="331.8" width="4.5" height="41.6" fill="#1ca868"/><rect x="1736.30" y="295.5" width="1" height="36.8" fill="#1ca868"/><rect x="1734.55" y="309.7" width="4.5" height="17.2" fill="#1ca868"/><rect x="1743.50" y="305.4" width="1" height="15.2" fill="#1ca868"/><rect x="1741.75" y="311.2" width="4.5" height="6.5" fill="#1ca868"/><path d="M2.30,426.05 C3.50,425.77 7.10,424.72 9.50,424.40 C11.90,424.07 14.30,424.27 16.69,424.07 C19.09,423.87 21.49,423.51 23.89,423.21 C26.29,422.90 28.69,422.62 31.09,422.24 C33.49,421.86 35.89,421.02 38.29,420.93 C40.68,420.83 43.08,421.17 45.48,421.67 C47.88,422.16 50.28,423.46 52.68,423.89 C55.08,424.32 57.48,425.12 59.88,424.23 C62.28,423.35 64.67,420.21 67.07,418.59 C69.47,416.97 71.87,415.55 74.27,414.52 C76.67,413.48 79.07,413.45 81.47,412.37 C83.87,411.29 86.27,409.45 88.67,408.05 C91.06,406.65 93.46,405.22 95.86,403.95 C98.26,402.68 100.66,402.33 103.06,400.43 C105.46,398.53 107.86,395.10 110.26,392.54 C112.66,389.98 115.05,387.49 117.45,385.06 C119.85,382.64 122.25,380.17 124.65,378.01 C127.05,375.85 129.45,373.97 131.85,372.10 C134.25,370.24 136.65,368.70 139.05,366.80 C141.44,364.90 143.84,363.11 146.24,360.72 C148.64,358.33 151.04,354.83 153.44,352.46 C155.84,350.10 158.24,348.12 160.64,346.51 C163.04,344.91 165.43,343.95 167.83,342.85 C170.23,341.75 172.63,340.85 175.03,339.92 C177.43,338.99 179.83,337.87 182.23,337.27 C184.63,336.66 187.03,336.53 189.42,336.28 C191.82,336.04 194.22,336.10 196.62,335.80 C199.02,335.50 201.42,335.10 203.82,334.48 C206.22,333.87 208.62,332.78 211.02,332.12 C213.42,331.47 215.81,331.32 218.21,330.57 C220.61,329.82 223.01,328.62 225.41,327.64 C227.81,326.66 230.21,325.65 232.61,324.69 C235.01,323.73 237.41,322.56 239.80,321.86 C242.20,321.17 244.60,321.08 247.00,320.52 C249.40,319.97 251.80,318.82 254.20,318.55 C256.60,318.28 259.00,318.70 261.40,318.88 C263.79,319.06 266.19,319.67 268.59,319.64 C270.99,319.61 273.39,319.00 275.79,318.70 C278.19,318.40 280.59,317.98 282.99,317.84 C285.39,317.69 287.79,317.62 290.18,317.83 C292.58,318.04 294.98,318.67 297.38,319.10 C299.78,319.53 302.18,320.07 304.58,320.42 C306.98,320.78 309.38,321.04 311.78,321.21 C314.17,321.38 316.57,321.74 318.97,321.46 C321.37,321.18 323.77,320.02 326.17,319.55 C328.57,319.07 330.97,319.06 333.37,318.61 C335.77,318.16 338.17,317.56 340.56,316.82 C342.96,316.08 345.36,315.04 347.76,314.17 C350.16,313.30 352.56,313.22 354.96,311.61 C357.36,310.00 359.76,306.94 362.16,304.53 C364.55,302.12 366.95,299.48 369.35,297.15 C371.75,294.82 374.15,292.52 376.55,290.54 C378.95,288.57 381.35,287.05 383.75,285.32 C386.15,283.59 388.54,281.89 390.94,280.16 C393.34,278.42 395.74,276.57 398.14,274.90 C400.54,273.24 402.94,271.55 405.34,270.18 C407.74,268.81 410.14,267.81 412.54,266.71 C414.93,265.60 417.33,264.69 419.73,263.52 C422.13,262.36 424.53,260.88 426.93,259.69 C429.33,258.50 431.73,257.51 434.13,256.39 C436.53,255.26 438.92,253.86 441.32,252.94 C443.72,252.02 446.12,251.35 448.52,250.86 C450.92,250.37 453.32,250.29 455.72,250.02 C458.12,249.74 460.52,249.07 462.91,249.21 C465.31,249.34 467.71,250.07 470.11,250.84 C472.51,251.62 474.91,252.94 477.31,253.84 C479.71,254.74 482.11,255.13 484.51,256.26 C486.91,257.40 489.30,258.95 491.70,260.66 C494.10,262.37 496.50,264.66 498.90,266.52 C501.30,268.38 503.70,270.54 506.10,271.82 C508.50,273.11 510.90,273.35 513.29,274.22 C515.69,275.09 518.09,276.22 520.49,277.06 C522.89,277.90 525.29,279.69 527.69,279.26 C530.09,278.83 532.49,274.90 534.89,274.47 C537.28,274.05 539.68,273.89 542.08,276.71 C544.48,279.54 546.88,288.07 549.28,291.44 C551.68,294.80 554.08,294.41 556.48,296.90 C558.88,299.39 561.28,302.36 563.67,306.40 C566.07,310.43 568.47,317.20 570.87,321.12 C573.27,325.04 575.67,328.73 578.07,329.89 C580.47,331.05 582.87,326.52 585.27,328.06 C587.66,329.60 590.06,334.41 592.46,339.13 C594.86,343.85 597.26,349.12 599.66,356.40 C602.06,363.67 604.46,374.88 606.86,382.81 C609.26,390.73 611.66,398.46 614.05,403.97 C616.45,409.47 618.85,411.27 621.25,415.84 C623.65,420.40 626.05,427.02 628.45,431.35 C630.85,435.67 633.25,438.40 635.65,441.79 C638.04,445.18 640.44,450.02 642.84,451.67 C645.24,453.32 647.64,452.53 650.04,451.69 C652.44,450.85 654.84,448.67 657.24,446.64 C659.64,444.62 662.03,442.59 664.43,439.53 C666.83,436.48 669.23,433.15 671.63,428.29 C674.03,423.44 676.43,415.61 678.83,410.41 C681.23,405.21 683.63,401.80 686.03,397.08 C688.42,392.36 690.82,386.47 693.22,382.09 C695.62,377.72 698.02,374.30 700.42,370.83 C702.82,367.36 705.22,364.61 707.62,361.27 C710.02,357.94 712.41,353.42 714.81,350.84 C717.21,348.26 719.61,347.41 722.01,345.80 C724.41,344.18 726.81,340.97 729.21,341.14 C731.61,341.31 734.01,345.50 736.40,346.81 C738.80,348.13 741.20,349.54 743.60,349.02 C746.00,348.50 748.40,345.00 750.80,343.68 C753.20,342.37 755.60,340.05 758.00,341.11 C760.40,342.16 762.79,347.50 765.19,350.02 C767.59,352.54 769.99,353.64 772.39,356.21 C774.79,358.77 777.19,363.43 779.59,365.42 C781.99,367.40 784.39,366.40 786.78,368.12 C789.18,369.84 791.58,373.21 793.98,375.73 C796.38,378.24 798.78,381.93 801.18,383.22 C803.58,384.51 805.98,383.43 808.38,383.48 C810.78,383.54 813.17,383.54 815.57,383.55 C817.97,383.56 820.37,383.54 822.77,383.55 C825.17,383.56 827.57,384.58 829.97,383.61 C832.37,382.64 834.77,381.84 837.16,377.74 C839.56,373.65 841.96,364.95 844.36,359.05 C846.76,353.16 849.16,347.49 851.56,342.38 C853.96,337.27 856.36,333.98 858.76,328.40 C861.15,322.82 863.55,314.76 865.95,308.90 C868.35,303.04 870.75,298.07 873.15,293.25 C875.55,288.43 877.95,283.66 880.35,279.99 C882.75,276.31 885.15,274.72 887.54,271.21 C889.94,267.70 892.34,264.19 894.74,258.94 C897.14,253.69 899.54,244.30 901.94,239.70 C904.34,235.10 906.74,234.11 909.14,231.33 C911.53,228.55 913.93,225.94 916.33,223.01 C918.73,220.08 921.13,216.09 923.53,213.75 C925.93,211.41 928.33,209.95 930.73,208.96 C933.13,207.96 935.52,207.94 937.92,207.78 C940.32,207.62 942.72,208.72 945.12,208.02 C947.52,207.32 949.92,202.53 952.32,203.56 C954.72,204.59 957.12,210.21 959.52,214.22 C961.91,218.24 964.31,223.33 966.71,227.66 C969.11,231.98 971.51,236.85 973.91,240.17 C976.31,243.49 978.71,245.09 981.11,247.58 C983.51,250.06 985.90,253.09 988.30,255.08 C990.70,257.06 993.10,258.09 995.50,259.47 C997.90,260.84 1000.30,261.99 1002.70,263.33 C1005.10,264.67 1007.50,265.77 1009.90,267.53 C1012.29,269.29 1014.69,271.87 1017.09,273.90 C1019.49,275.92 1021.89,278.32 1024.29,279.66 C1026.69,281.00 1029.09,280.66 1031.49,281.95 C1033.89,283.24 1036.28,286.05 1038.68,287.41 C1041.08,288.77 1043.48,288.10 1045.88,290.13 C1048.28,292.16 1050.68,296.03 1053.08,299.58 C1055.48,303.12 1057.88,309.45 1060.27,311.40 C1062.67,313.34 1065.07,313.33 1067.47,311.25 C1069.87,309.17 1072.27,302.38 1074.67,298.92 C1077.07,295.45 1079.47,293.21 1081.87,290.46 C1084.27,287.71 1086.66,285.46 1089.06,282.42 C1091.46,279.37 1093.86,274.83 1096.26,272.20 C1098.66,269.58 1101.06,268.10 1103.46,266.69 C1105.86,265.28 1108.26,262.56 1110.65,263.72 C1113.05,264.88 1115.45,271.29 1117.85,273.64 C1120.25,275.99 1122.65,275.42 1125.05,277.83 C1127.45,280.24 1129.85,284.27 1132.25,288.10 C1134.64,291.93 1137.04,297.38 1139.44,300.82 C1141.84,304.25 1144.24,305.26 1146.64,308.74 C1149.04,312.21 1151.44,316.62 1153.84,321.66 C1156.24,326.69 1158.64,333.19 1161.03,338.95 C1163.43,344.70 1165.83,351.04 1168.23,356.19 C1170.63,361.34 1173.03,365.31 1175.43,369.87 C1177.83,374.42 1180.23,379.31 1182.63,383.52 C1185.02,387.73 1187.42,391.36 1189.82,395.14 C1192.22,398.91 1194.62,403.56 1197.02,406.16 C1199.42,408.77 1201.82,410.00 1204.22,410.76 C1206.62,411.53 1209.02,412.24 1211.41,410.73 C1213.81,409.22 1216.21,403.60 1218.61,401.68 C1221.01,399.76 1223.41,400.99 1225.81,399.23 C1228.21,397.47 1230.61,393.26 1233.01,391.12 C1235.40,388.97 1237.80,388.23 1240.20,386.34 C1242.60,384.45 1245.00,381.79 1247.40,379.78 C1249.80,377.76 1252.20,376.23 1254.60,374.26 C1257.00,372.28 1259.39,369.82 1261.79,367.91 C1264.19,365.99 1266.59,364.33 1268.99,362.77 C1271.39,361.22 1273.79,359.83 1276.19,358.60 C1278.59,357.36 1280.99,356.35 1283.39,355.38 C1285.78,354.41 1288.18,353.40 1290.58,352.77 C1292.98,352.14 1295.38,351.31 1297.78,351.58 C1300.18,351.85 1302.58,353.08 1304.98,354.37 C1307.38,355.67 1309.77,357.64 1312.17,359.36 C1314.57,361.08 1316.97,363.12 1319.37,364.69 C1321.77,366.25 1324.17,367.27 1326.57,368.72 C1328.97,370.18 1331.37,371.61 1333.76,373.39 C1336.16,375.16 1338.56,377.81 1340.96,379.37 C1343.36,380.94 1345.76,381.60 1348.16,382.77 C1350.56,383.95 1352.96,384.98 1355.36,386.40 C1357.76,387.83 1360.15,389.67 1362.55,391.33 C1364.95,392.98 1367.35,394.78 1369.75,396.34 C1372.15,397.89 1374.55,399.07 1376.95,400.68 C1379.35,402.29 1381.75,404.24 1384.14,406.00 C1386.54,407.76 1388.94,409.37 1391.34,411.23 C1393.74,413.09 1396.14,415.53 1398.54,417.17 C1400.94,418.81 1403.34,419.91 1405.74,421.06 C1408.13,422.21 1410.53,423.18 1412.93,424.06 C1415.33,424.95 1417.73,425.26 1420.13,426.37 C1422.53,427.48 1424.93,429.59 1427.33,430.70 C1429.73,431.80 1432.13,432.16 1434.52,432.98 C1436.92,433.81 1439.32,434.70 1441.72,435.64 C1444.12,436.59 1446.52,438.02 1448.92,438.65 C1451.32,439.27 1453.72,439.19 1456.12,439.39 C1458.51,439.58 1460.91,439.83 1463.31,439.84 C1465.71,439.85 1468.11,440.03 1470.51,439.45 C1472.91,438.87 1475.31,437.40 1477.71,436.34 C1480.11,435.28 1482.51,434.30 1484.90,433.09 C1487.30,431.87 1489.70,431.03 1492.10,429.05 C1494.50,427.07 1496.90,423.49 1499.30,421.19 C1501.70,418.89 1504.10,417.06 1506.50,415.26 C1508.89,413.45 1511.29,412.01 1513.69,410.35 C1516.09,408.68 1518.49,406.71 1520.89,405.27 C1523.29,403.82 1525.69,403.08 1528.09,401.68 C1530.49,400.28 1532.88,398.24 1535.28,396.84 C1537.68,395.45 1540.08,394.66 1542.48,393.30 C1544.88,391.93 1547.28,390.30 1549.68,388.68 C1552.08,387.05 1554.48,385.02 1556.88,383.56 C1559.27,382.09 1561.67,381.07 1564.07,379.86 C1566.47,378.66 1568.87,377.51 1571.27,376.34 C1573.67,375.18 1576.07,373.74 1578.47,372.88 C1580.87,372.02 1583.26,371.28 1585.66,371.18 C1588.06,371.08 1590.46,372.29 1592.86,372.30 C1595.26,372.30 1597.66,371.81 1600.06,371.20 C1602.46,370.60 1604.86,369.60 1607.25,368.67 C1609.65,367.74 1612.05,366.85 1614.45,365.61 C1616.85,364.38 1619.25,362.31 1621.65,361.26 C1624.05,360.21 1626.45,359.90 1628.85,359.33 C1631.25,358.76 1633.64,358.10 1636.04,357.82 C1638.44,357.54 1640.84,357.82 1643.24,357.65 C1645.64,357.48 1648.04,356.85 1650.44,356.83 C1652.84,356.80 1655.24,357.05 1657.63,357.49 C1660.03,357.93 1662.43,359.04 1664.83,359.45 C1667.23,359.87 1669.63,359.91 1672.03,359.98 C1674.43,360.06 1676.83,359.57 1679.23,359.91 C1681.63,360.25 1684.02,361.16 1686.42,362.03 C1688.82,362.90 1691.22,364.24 1693.62,365.11 C1696.02,365.99 1698.42,366.60 1700.82,367.29 C1703.22,367.98 1705.62,369.07 1708.01,369.26 C1710.41,369.46 1712.81,368.51 1715.21,368.47 C1717.61,368.42 1720.01,369.50 1722.41,368.99 C1724.81,368.49 1727.21,366.93 1729.61,365.45 C1732.00,363.98 1734.40,361.80 1736.80,360.14 C1739.20,358.48 1742.80,356.26 1744.00,355.48" fill="none" stroke="#c0463a" stroke-width="1.3" stroke-opacity="0.9" stroke-linejoin="round"/><path d="M2.30,423.05 C3.50,422.62 7.10,420.86 9.50,420.44 C11.90,420.03 14.30,420.70 16.69,420.55 C19.09,420.39 21.49,419.90 23.89,419.54 C26.29,419.17 28.69,418.85 31.09,418.35 C33.49,417.85 35.89,416.49 38.29,416.56 C40.68,416.63 43.08,417.60 45.48,418.77 C47.88,419.93 50.28,422.62 52.68,423.54 C55.08,424.45 57.48,425.93 59.88,424.26 C62.28,422.58 64.67,416.42 67.07,413.48 C69.47,410.54 71.87,408.22 74.27,406.63 C76.67,405.05 79.07,405.53 81.47,403.97 C83.87,402.41 86.27,399.35 88.67,397.25 C91.06,395.15 93.46,393.10 95.86,391.39 C98.26,389.67 100.66,389.79 103.06,386.95 C105.46,384.11 107.86,378.27 110.26,374.34 C112.66,370.41 115.05,366.79 117.45,363.37 C119.85,359.96 122.25,356.58 124.65,353.85 C127.05,351.12 129.45,349.04 131.85,346.97 C134.25,344.89 136.65,343.50 139.05,341.41 C141.44,339.32 143.84,337.42 146.24,334.43 C148.64,331.43 151.04,326.28 153.44,323.44 C155.84,320.60 158.24,318.66 160.64,317.36 C163.04,316.06 165.43,316.05 167.83,315.66 C170.23,315.27 172.63,315.21 175.03,315.01 C177.43,314.81 179.83,314.19 182.23,314.48 C184.63,314.77 187.03,315.93 189.42,316.74 C191.82,317.55 194.22,318.85 196.62,319.37 C199.02,319.89 201.42,320.07 203.82,319.85 C206.22,319.62 208.62,318.38 211.02,318.00 C213.42,317.63 215.81,318.21 218.21,317.60 C220.61,317.00 223.01,315.44 225.41,314.37 C227.81,313.29 230.21,312.18 232.61,311.15 C235.01,310.13 237.41,308.72 239.80,308.22 C242.20,307.71 244.60,308.41 247.00,308.14 C249.40,307.88 251.80,306.41 254.20,306.62 C256.60,306.84 259.00,308.42 261.40,309.42 C263.79,310.42 266.19,312.16 268.59,312.60 C270.99,313.04 273.39,312.23 275.79,312.07 C278.19,311.91 280.59,311.53 282.99,311.64 C285.39,311.75 287.79,312.00 290.18,312.74 C292.58,313.48 294.98,315.03 297.38,316.10 C299.78,317.17 302.18,318.37 304.58,319.17 C306.98,319.97 309.38,320.53 311.78,320.90 C314.17,321.28 316.57,321.95 318.97,321.43 C321.37,320.91 323.77,318.64 326.17,317.79 C328.57,316.94 330.97,317.06 333.37,316.32 C335.77,315.57 338.17,314.55 340.56,313.31 C342.96,312.08 345.36,310.28 347.76,308.89 C350.16,307.50 352.56,307.67 354.96,304.97 C357.36,302.26 359.76,296.70 362.16,292.66 C364.55,288.62 366.95,284.32 369.35,280.73 C371.75,277.13 374.15,273.78 376.55,271.10 C378.95,268.43 381.35,266.76 383.75,264.67 C386.15,262.58 388.54,260.60 390.94,258.56 C393.34,256.53 395.74,254.30 398.14,252.46 C400.54,250.62 402.94,248.76 405.34,247.52 C407.74,246.28 410.14,245.78 412.54,245.01 C414.93,244.24 417.33,243.83 419.73,242.88 C422.13,241.93 424.53,240.35 426.93,239.32 C429.33,238.29 431.73,237.65 434.13,236.72 C436.53,235.78 438.92,234.29 441.32,233.71 C443.72,233.13 446.12,233.05 448.52,233.24 C450.92,233.42 453.32,234.36 455.72,234.83 C458.12,235.30 460.52,234.92 462.91,236.04 C465.31,237.17 467.71,239.41 470.11,241.56 C472.51,243.72 474.91,246.82 477.31,248.97 C479.71,251.12 482.11,252.11 484.51,254.48 C486.91,256.86 489.30,259.96 491.70,263.20 C494.10,266.44 496.50,270.67 498.90,273.92 C501.30,277.18 503.70,280.81 506.10,282.70 C508.50,284.60 510.90,284.30 513.29,285.30 C515.69,286.30 518.09,287.79 520.49,288.70 C522.89,289.62 525.29,292.32 527.69,290.79 C530.09,289.27 532.49,280.87 534.89,279.56 C537.28,278.24 539.68,277.85 542.08,282.91 C544.48,287.97 546.88,304.21 549.28,309.89 C551.68,315.57 554.08,313.37 556.48,316.96 C558.88,320.56 561.28,325.10 563.67,331.44 C566.07,337.78 568.47,349.31 570.87,355.00 C573.27,360.69 575.67,365.48 578.07,365.58 C580.47,365.68 582.87,354.58 585.27,355.60 C587.66,356.63 590.06,364.54 592.46,371.73 C594.86,378.92 597.26,387.14 599.66,398.76 C602.06,410.39 604.46,429.40 606.86,441.48 C609.26,453.55 611.66,464.51 614.05,471.21 C616.45,477.90 618.85,476.96 621.25,481.64 C623.65,486.32 626.05,495.08 628.45,499.29 C630.85,503.49 633.25,504.44 635.65,506.87 C638.04,509.31 640.44,514.60 642.84,513.90 C645.24,513.19 647.64,507.65 650.04,502.62 C652.44,497.60 654.84,490.26 657.24,483.73 C659.64,477.19 662.03,471.10 664.43,463.41 C666.83,455.73 669.23,447.89 671.63,437.61 C674.03,427.34 676.43,411.72 678.83,401.77 C681.23,391.82 683.63,386.07 686.03,377.91 C688.42,369.74 690.82,359.66 693.22,352.78 C695.62,345.89 698.02,341.30 700.42,336.60 C702.82,331.90 705.22,328.79 707.62,324.58 C710.02,320.37 712.41,313.95 714.81,311.33 C717.21,308.71 719.61,309.66 722.01,308.89 C724.41,308.12 726.81,304.22 729.21,306.71 C731.61,309.19 734.01,319.55 736.40,323.80 C738.80,328.05 741.20,331.99 743.60,332.20 C746.00,332.41 748.40,326.52 750.80,325.07 C753.20,323.63 755.60,320.42 758.00,323.53 C760.40,326.64 762.79,338.22 765.19,343.74 C767.59,349.27 769.99,351.62 772.39,356.70 C774.79,361.77 777.19,370.68 779.59,374.19 C781.99,377.70 784.39,375.03 786.78,377.76 C789.18,380.48 791.58,386.46 793.98,390.53 C796.38,394.59 798.78,400.69 801.18,402.14 C803.58,403.59 805.98,400.15 808.38,399.21 C810.78,398.26 813.17,397.33 815.57,396.48 C817.97,395.63 820.37,394.81 822.77,394.12 C825.17,393.42 827.57,394.75 829.97,392.31 C832.37,389.88 834.77,387.66 837.16,379.53 C839.56,371.40 841.96,354.36 844.36,343.52 C846.76,332.69 849.16,322.96 851.56,314.52 C853.96,306.08 856.36,301.63 858.76,292.90 C861.15,284.16 863.55,270.81 865.95,262.12 C868.35,253.43 870.75,246.94 873.15,240.75 C875.55,234.56 877.95,228.73 880.35,224.98 C882.75,221.22 885.15,221.64 887.54,218.22 C889.94,214.79 892.34,211.20 894.74,204.43 C897.14,197.66 899.54,182.86 901.94,177.61 C904.34,172.36 906.74,174.57 909.14,172.92 C911.53,171.26 913.93,169.80 916.33,167.66 C918.73,165.51 921.13,161.21 923.53,160.05 C925.93,158.88 928.33,159.47 930.73,160.66 C933.13,161.85 935.52,164.80 937.92,167.19 C940.32,169.59 942.72,174.14 945.12,175.03 C947.52,175.92 949.92,168.60 952.32,172.52 C954.72,176.43 957.12,189.43 959.52,198.51 C961.91,207.60 964.31,218.27 966.71,227.02 C969.11,235.77 971.51,244.99 973.91,251.02 C976.31,257.05 978.71,259.25 981.11,263.19 C983.51,267.14 985.90,271.95 988.30,274.67 C990.70,277.38 993.10,278.07 995.50,279.49 C997.90,280.92 1000.30,281.87 1002.70,283.22 C1005.10,284.58 1007.50,285.47 1009.90,287.62 C1012.29,289.77 1014.69,293.55 1017.09,296.12 C1019.49,298.70 1021.89,301.90 1024.29,303.08 C1026.69,304.26 1029.09,302.08 1031.49,303.19 C1033.89,304.31 1036.28,308.48 1038.68,309.76 C1041.08,311.04 1043.48,308.33 1045.88,310.89 C1048.28,313.46 1050.68,319.79 1053.08,325.15 C1055.48,330.51 1057.88,341.09 1060.27,343.07 C1062.67,345.05 1065.07,342.73 1067.47,337.02 C1069.87,331.31 1072.27,316.49 1074.67,308.80 C1077.07,301.10 1079.47,296.41 1081.87,290.85 C1084.27,285.29 1086.66,281.03 1089.06,275.42 C1091.46,269.82 1093.86,261.54 1096.26,257.20 C1098.66,252.86 1101.06,251.12 1103.46,249.40 C1105.86,247.68 1108.26,243.63 1110.65,246.87 C1113.05,250.12 1115.45,263.73 1117.85,268.88 C1120.25,274.02 1122.65,272.99 1125.05,277.74 C1127.45,282.49 1129.85,290.33 1132.25,297.37 C1134.64,304.40 1137.04,314.25 1139.44,319.95 C1141.84,325.66 1144.24,326.24 1146.64,331.60 C1149.04,336.96 1151.44,344.11 1153.84,352.11 C1156.24,360.11 1158.64,370.75 1161.03,379.58 C1163.43,388.41 1165.83,397.99 1168.23,405.11 C1170.63,412.24 1173.03,416.70 1175.43,422.33 C1177.83,427.95 1180.23,434.08 1182.63,438.85 C1185.02,443.62 1187.42,447.13 1189.82,450.97 C1192.22,454.80 1194.62,460.27 1197.02,461.86 C1199.42,463.46 1201.82,462.27 1204.22,460.53 C1206.62,458.78 1209.02,457.04 1211.41,451.41 C1213.81,445.78 1216.21,432.39 1218.61,426.74 C1221.01,421.09 1223.41,422.19 1225.81,417.51 C1228.21,412.84 1230.61,403.58 1233.01,398.69 C1235.40,393.81 1237.80,392.10 1240.20,388.20 C1242.60,384.31 1245.00,379.10 1247.40,375.33 C1249.80,371.56 1252.20,368.98 1254.60,365.60 C1257.00,362.22 1259.39,358.05 1261.79,355.05 C1264.19,352.05 1266.59,349.70 1268.99,347.59 C1271.39,345.47 1273.79,343.77 1276.19,342.37 C1278.59,340.97 1280.99,340.05 1283.39,339.18 C1285.78,338.31 1288.18,337.39 1290.58,337.14 C1292.98,336.90 1295.38,336.31 1297.78,337.72 C1300.18,339.12 1302.58,342.41 1304.98,345.57 C1307.38,348.73 1309.77,353.06 1312.17,356.68 C1314.57,360.31 1316.97,364.36 1319.37,367.34 C1321.77,370.32 1324.17,372.06 1326.57,374.57 C1328.97,377.08 1331.37,379.48 1333.76,382.41 C1336.16,385.35 1338.56,389.87 1340.96,392.19 C1343.36,394.52 1345.76,394.92 1348.16,396.36 C1350.56,397.79 1352.96,398.95 1355.36,400.82 C1357.76,402.69 1360.15,405.37 1362.55,407.60 C1364.95,409.83 1367.35,412.26 1369.75,414.20 C1372.15,416.14 1374.55,417.28 1376.95,419.25 C1379.35,421.22 1381.75,423.84 1384.14,426.03 C1386.54,428.21 1388.94,430.06 1391.34,432.37 C1393.74,434.67 1396.14,438.06 1398.54,439.86 C1400.94,441.66 1403.34,442.33 1405.74,443.16 C1408.13,444.00 1410.53,444.49 1412.93,444.88 C1415.33,445.27 1417.73,444.60 1420.13,445.50 C1422.53,446.40 1424.93,449.35 1427.33,450.28 C1429.73,451.21 1432.13,450.65 1434.52,451.08 C1436.92,451.52 1439.32,452.14 1441.72,452.87 C1444.12,453.60 1446.52,455.32 1448.92,455.47 C1451.32,455.63 1453.72,454.39 1456.12,453.82 C1458.51,453.26 1460.91,452.86 1463.31,452.07 C1465.71,451.29 1468.11,450.88 1470.51,449.10 C1472.91,447.32 1475.31,443.88 1477.71,441.41 C1480.11,438.94 1482.51,436.79 1484.90,434.28 C1487.30,431.77 1489.70,430.10 1492.10,426.36 C1494.50,422.61 1496.90,415.86 1499.30,411.84 C1501.70,407.81 1504.10,404.98 1506.50,402.21 C1508.89,399.44 1511.29,397.53 1513.69,395.21 C1516.09,392.88 1518.49,390.05 1520.89,388.26 C1523.29,386.48 1525.69,386.15 1528.09,384.51 C1530.49,382.86 1532.88,379.98 1535.28,378.40 C1537.68,376.81 1540.08,376.46 1542.48,374.98 C1544.88,373.49 1547.28,371.45 1549.68,369.49 C1552.08,367.53 1554.48,364.81 1556.88,363.20 C1559.27,361.60 1561.67,360.93 1564.07,359.86 C1566.47,358.78 1568.87,357.80 1571.27,356.77 C1573.67,355.75 1576.07,354.19 1578.47,353.72 C1580.87,353.25 1583.26,353.04 1585.66,353.96 C1588.06,354.87 1590.46,358.29 1592.86,359.22 C1595.26,360.14 1597.66,359.91 1600.06,359.51 C1602.46,359.10 1604.86,357.86 1607.25,356.80 C1609.65,355.73 1612.05,354.74 1614.45,353.12 C1616.85,351.50 1619.25,348.27 1621.65,347.08 C1624.05,345.89 1626.45,346.24 1628.85,345.98 C1631.25,345.72 1633.64,345.28 1636.04,345.53 C1638.44,345.77 1640.84,347.07 1643.24,347.43 C1645.64,347.80 1648.04,347.18 1650.44,347.72 C1652.84,348.25 1655.24,349.32 1657.63,350.64 C1660.03,351.96 1662.43,354.52 1664.83,355.63 C1667.23,356.75 1669.63,357.00 1672.03,357.34 C1674.43,357.68 1676.83,356.88 1679.23,357.68 C1681.63,358.47 1684.02,360.41 1686.42,362.13 C1688.82,363.86 1691.22,366.42 1693.62,368.00 C1696.02,369.58 1698.42,370.54 1700.82,371.64 C1703.22,372.74 1705.62,374.53 1708.01,374.61 C1710.41,374.69 1712.81,372.48 1715.21,372.12 C1717.61,371.76 1720.01,373.64 1722.41,372.46 C1724.81,371.29 1727.21,367.98 1729.61,365.07 C1732.00,362.16 1734.40,358.01 1736.80,355.00 C1739.20,352.00 1742.80,348.36 1744.00,347.04" fill="none" stroke="#3676ad" stroke-width="1.3" stroke-opacity="0.8" stroke-linejoin="round"/><rect x="1.5" y="660" width="1" height="1" fill="#3a3a3a"/><rect x="30.3" y="660" width="1" height="1" fill="#3a3a3a"/><rect x="59.1" y="660" width="1" height="1" fill="#3a3a3a"/><rect x="87.9" y="660" width="1" height="1" fill="#3a3a3a"/><rect x="116.7" y="660" width="1" height="1" fill="#3a3a3a"/><rect x="145.5" y="660" width="1" height="1" fill="#3a3a3a"/><rect x="174.3" y="660" width="1" height="1" fill="#3a3a3a"/><rect x="203.1" y="660" width="1" height="1" fill="#3a3a3a"/><rect x="231.9" y="660" width="1" height="1" fill="#3a3a3a"/><rect x="260.7" y="660" width="1" height="1" fill="#3a3a3a"/><rect x="289.5" y="660" width="1" height="1" fill="#3a3a3a"/><rect x="318.3" y="660" width="1" height="1" fill="#3a3a3a"/><rect x="347.1" y="660" width="1" height="1" fill="#3a3a3a"/><rect x="375.9" y="660" width="1" height="1" fill="#3a3a3a"/><rect x="404.7" y="660" width="1" height="1" fill="#3a3a3a"/><rect x="433.5" y="660" width="1" height="1" fill="#3a3a3a"/><rect x="462.3" y="660" width="1" height="1" fill="#3a3a3a"/><rect x="491.1" y="660" width="1" height="1" fill="#3a3a3a"/><rect x="519.9" y="660" width="1" height="1" fill="#3a3a3a"/><rect x="548.7" y="660" width="1" height="1" fill="#3a3a3a"/><rect x="577.5" y="660" width="1" height="1" fill="#3a3a3a"/><rect x="606.3" y="660" width="1" height="1" fill="#3a3a3a"/><rect x="635.1" y="660" width="1" height="1" fill="#3a3a3a"/><rect x="663.9" y="660" width="1" height="1" fill="#3a3a3a"/><rect x="692.7" y="660" width="1" height="1" fill="#3a3a3a"/><rect x="721.5" y="660" width="1" height="1" fill="#3a3a3a"/><rect x="750.3" y="660" width="1" height="1" fill="#3a3a3a"/><rect x="779.1" y="660" width="1" height="1" fill="#3a3a3a"/><rect x="807.9" y="660" width="1" height="1" fill="#3a3a3a"/><rect x="836.7" y="660" width="1" height="1" fill="#3a3a3a"/><rect x="865.5" y="660" width="1" height="1" fill="#3a3a3a"/><rect x="894.3" y="660" width="1" height="1" fill="#3a3a3a"/><rect x="923.1" y="660" width="1" height="1" fill="#3a3a3a"/><rect x="951.9" y="660" width="1" height="1" fill="#3a3a3a"/><rect x="980.7" y="660" width="1" height="1" fill="#3a3a3a"/><rect x="1009.5" y="660" width="1" height="1" fill="#3a3a3a"/><rect x="1038.3" y="660" width="1" height="1" fill="#3a3a3a"/><rect x="1067.1" y="660" width="1" height="1" fill="#3a3a3a"/><rect x="1095.9" y="660" width="1" height="1" fill="#3a3a3a"/><rect x="1124.7" y="660" width="1" height="1" fill="#3a3a3a"/><rect x="1153.5" y="660" width="1" height="1" fill="#3a3a3a"/><rect x="1182.3" y="660" width="1" height="1" fill="#3a3a3a"/><rect x="1211.1" y="660" width="1" height="1" fill="#3a3a3a"/><rect x="1239.9" y="660" width="1" height="1" fill="#3a3a3a"/><rect x="1268.7" y="660" width="1" height="1" fill="#3a3a3a"/><rect x="1297.5" y="660" width="1" height="1" fill="#3a3a3a"/><rect x="1326.3" y="660" width="1" height="1" fill="#3a3a3a"/><rect x="1355.1" y="660" width="1" height="1" fill="#3a3a3a"/><rect x="1383.9" y="660" width="1" height="1" fill="#3a3a3a"/><rect x="1412.7" y="660" width="1" height="1" fill="#3a3a3a"/><rect x="1441.5" y="660" width="1" height="1" fill="#3a3a3a"/><rect x="1470.3" y="660" width="1" height="1" fill="#3a3a3a"/><rect x="1499.1" y="660" width="1" height="1" fill="#3a3a3a"/><rect x="1527.9" y="660" width="1" height="1" fill="#3a3a3a"/><rect x="1556.7" y="660" width="1" height="1" fill="#3a3a3a"/><rect x="1585.5" y="660" width="1" height="1" fill="#3a3a3a"/><rect x="1614.3" y="660" width="1" height="1" fill="#3a3a3a"/><rect x="1643.1" y="660" width="1" height="1" fill="#3a3a3a"/><rect x="1671.9" y="660" width="1" height="1" fill="#3a3a3a"/><rect x="1700.7" y="660" width="1" height="1" fill="#3a3a3a"/><rect x="1729.5" y="660" width="1" height="1" fill="#3a3a3a"/><rect x="1758.3" y="660" width="1" height="1" fill="#3a3a3a"/><rect x="0" y="239" width="1765" height="1" fill="#a6a6a6"/><rect x="0" y="425" width="1765" height="1" fill="#a6a6a6"/><rect x="1766" y="53" width="1" height="1" fill="#4d4d4d"/><text x="1770.8" y="56.9" font-size="10" fill="#7c7c7c" textLength="29" lengthAdjust="spacingAndGlyphs" font-family="Liberation Sans, sans-serif">1.9676</text><rect x="1766" y="82" width="1" height="1" fill="#4d4d4d"/><text x="1770.8" y="85.7" font-size="10" fill="#7c7c7c" textLength="29" lengthAdjust="spacingAndGlyphs" font-family="Liberation Sans, sans-serif">1.9662</text><rect x="1766" y="111" width="1" height="1" fill="#4d4d4d"/><text x="1770.8" y="114.6" font-size="10" fill="#7c7c7c" textLength="29" lengthAdjust="spacingAndGlyphs" font-family="Liberation Sans, sans-serif">1.9648</text><rect x="1766" y="140" width="1" height="1" fill="#4d4d4d"/><text x="1770.8" y="143.4" font-size="10" fill="#7c7c7c" textLength="29" lengthAdjust="spacingAndGlyphs" font-family="Liberation Sans, sans-serif">1.9634</text><rect x="1766" y="169" width="1" height="1" fill="#4d4d4d"/><text x="1770.8" y="172.2" font-size="10" fill="#7c7c7c" textLength="29" lengthAdjust="spacingAndGlyphs" font-family="Liberation Sans, sans-serif">1.9620</text><rect x="1766" y="197" width="1" height="1" fill="#4d4d4d"/><text x="1770.8" y="201.0" font-size="10" fill="#7c7c7c" textLength="29" lengthAdjust="spacingAndGlyphs" font-family="Liberation Sans, sans-serif">1.9606</text><rect x="1766" y="226" width="1" height="1" fill="#4d4d4d"/><text x="1770.8" y="229.9" font-size="10" fill="#7c7c7c" textLength="29" lengthAdjust="spacingAndGlyphs" font-family="Liberation Sans, sans-serif">1.9592</text><rect x="1766" y="255" width="1" height="1" fill="#4d4d4d"/><text x="1770.8" y="258.7" font-size="10" fill="#7c7c7c" textLength="29" lengthAdjust="spacingAndGlyphs" font-family="Liberation Sans, sans-serif">1.9578</text><rect x="1766" y="284" width="1" height="1" fill="#4d4d4d"/><text x="1770.8" y="287.5" font-size="10" fill="#7c7c7c" textLength="29" lengthAdjust="spacingAndGlyphs" font-family="Liberation Sans, sans-serif">1.9564</text><rect x="1766" y="313" width="1" height="1" fill="#4d4d4d"/><text x="1770.8" y="316.4" font-size="10" fill="#7c7c7c" textLength="29" lengthAdjust="spacingAndGlyphs" font-family="Liberation Sans, sans-serif">1.9551</text><rect x="1766" y="342" width="1" height="1" fill="#4d4d4d"/><text x="1770.8" y="345.2" font-size="10" fill="#7c7c7c" textLength="29" lengthAdjust="spacingAndGlyphs" font-family="Liberation Sans, sans-serif">1.9537</text><rect x="1766" y="370" width="1" height="1" fill="#4d4d4d"/><text x="1770.8" y="374.0" font-size="10" fill="#7c7c7c" textLength="29" lengthAdjust="spacingAndGlyphs" font-family="Liberation Sans, sans-serif">1.9523</text><rect x="1766" y="399" width="1" height="1" fill="#4d4d4d"/><text x="1770.8" y="402.9" font-size="10" fill="#7c7c7c" textLength="29" lengthAdjust="spacingAndGlyphs" font-family="Liberation Sans, sans-serif">1.9509</text><rect x="1766" y="428" width="1" height="1" fill="#4d4d4d"/><text x="1770.8" y="431.7" font-size="10" fill="#7c7c7c" textLength="29" lengthAdjust="spacingAndGlyphs" font-family="Liberation Sans, sans-serif">1.9495</text><rect x="1766" y="457" width="1" height="1" fill="#4d4d4d"/><text x="1770.8" y="460.5" font-size="10" fill="#7c7c7c" textLength="29" lengthAdjust="spacingAndGlyphs" font-family="Liberation Sans, sans-serif">1.9481</text><rect x="1766" y="486" width="1" height="1" fill="#4d4d4d"/><text x="1770.8" y="489.4" font-size="10" fill="#7c7c7c" textLength="29" lengthAdjust="spacingAndGlyphs" font-family="Liberation Sans, sans-serif">1.9467</text><rect x="1766" y="515" width="1" height="1" fill="#4d4d4d"/><text x="1770.8" y="518.2" font-size="10" fill="#7c7c7c" textLength="29" lengthAdjust="spacingAndGlyphs" font-family="Liberation Sans, sans-serif">1.9453</text><rect x="1766" y="543" width="1" height="1" fill="#4d4d4d"/><text x="1770.8" y="547.0" font-size="10" fill="#7c7c7c" textLength="29" lengthAdjust="spacingAndGlyphs" font-family="Liberation Sans, sans-serif">1.9439</text><rect x="1766" y="572" width="1" height="1" fill="#4d4d4d"/><text x="1770.8" y="575.8" font-size="10" fill="#7c7c7c" textLength="29" lengthAdjust="spacingAndGlyphs" font-family="Liberation Sans, sans-serif">1.9425</text><rect x="1766" y="601" width="1" height="1" fill="#4d4d4d"/><text x="1770.8" y="604.7" font-size="10" fill="#7c7c7c" textLength="29" lengthAdjust="spacingAndGlyphs" font-family="Liberation Sans, sans-serif">1.9411</text><rect x="1766" y="630" width="1" height="1" fill="#4d4d4d"/><text x="1770.8" y="633.5" font-size="10" fill="#7c7c7c" textLength="29" lengthAdjust="spacingAndGlyphs" font-family="Liberation Sans, sans-serif">1.9397</text><rect x="1767" y="230" width="45" height="18" rx="2" fill="#8a8a8a"/><text x="1772.5" y="243.0" font-size="11" fill="#ffffff" textLength="31.5" lengthAdjust="spacingAndGlyphs" font-family="Liberation Sans, sans-serif">1.9586</text><rect x="1767" y="416" width="45" height="18" rx="2" fill="#8a8a8a"/><text x="1772.5" y="429.0" font-size="11" fill="#ffffff" textLength="31.5" lengthAdjust="spacingAndGlyphs" font-family="Liberation Sans, sans-serif">1.9496</text><text x="118.1" y="672.7" font-size="10" fill="#7c7c7c" textLength="23.8" lengthAdjust="spacingAndGlyphs" font-family="Liberation Sans, sans-serif">18:00</text><text x="175.4" y="672.7" font-size="10" fill="#7c7c7c" textLength="23.8" lengthAdjust="spacingAndGlyphs" font-family="Liberation Sans, sans-serif">22:00</text><text x="290.6" y="672.7" font-size="10" fill="#7c7c7c" textLength="23.8" lengthAdjust="spacingAndGlyphs" font-family="Liberation Sans, sans-serif">06:00</text><text x="348.1" y="672.7" font-size="10" fill="#7c7c7c" textLength="23.8" lengthAdjust="spacingAndGlyphs" font-family="Liberation Sans, sans-serif">10:00</text><text x="405.8" y="672.7" font-size="10" fill="#7c7c7c" textLength="23.8" lengthAdjust="spacingAndGlyphs" font-family="Liberation Sans, sans-serif">14:00</text><text x="463.1" y="672.7" font-size="10" fill="#7c7c7c" textLength="23.8" lengthAdjust="spacingAndGlyphs" font-family="Liberation Sans, sans-serif">18:00</text><text x="521.1" y="672.7" font-size="10" fill="#7c7c7c" textLength="23.8" lengthAdjust="spacingAndGlyphs" font-family="Liberation Sans, sans-serif">22:00</text><text x="636.1" y="672.7" font-size="10" fill="#7c7c7c" textLength="23.8" lengthAdjust="spacingAndGlyphs" font-family="Liberation Sans, sans-serif">06:00</text><text x="693.7" y="672.7" font-size="10" fill="#7c7c7c" textLength="23.8" lengthAdjust="spacingAndGlyphs" font-family="Liberation Sans, sans-serif">10:00</text><text x="751.1" y="672.7" font-size="10" fill="#7c7c7c" textLength="23.8" lengthAdjust="spacingAndGlyphs" font-family="Liberation Sans, sans-serif">14:00</text><text x="808.8" y="672.7" font-size="10" fill="#7c7c7c" textLength="23.8" lengthAdjust="spacingAndGlyphs" font-family="Liberation Sans, sans-serif">18:00</text><text x="866.4" y="672.7" font-size="10" fill="#7c7c7c" textLength="23.8" lengthAdjust="spacingAndGlyphs" font-family="Liberation Sans, sans-serif">22:00</text><text x="981.6" y="672.7" font-size="10" fill="#7c7c7c" textLength="23.8" lengthAdjust="spacingAndGlyphs" font-family="Liberation Sans, sans-serif">06:00</text><text x="1039.1" y="672.7" font-size="10" fill="#7c7c7c" textLength="23.8" lengthAdjust="spacingAndGlyphs" font-family="Liberation Sans, sans-serif">10:00</text><text x="1096.7" y="672.7" font-size="10" fill="#7c7c7c" textLength="23.8" lengthAdjust="spacingAndGlyphs" font-family="Liberation Sans, sans-serif">14:00</text><text x="1154.1" y="672.7" font-size="10" fill="#7c7c7c" textLength="23.8" lengthAdjust="spacingAndGlyphs" font-family="Liberation Sans, sans-serif">18:00</text><text x="1211.8" y="672.7" font-size="10" fill="#7c7c7c" textLength="23.8" lengthAdjust="spacingAndGlyphs" font-family="Liberation Sans, sans-serif">22:00</text><text x="1327.1" y="672.7" font-size="10" fill="#7c7c7c" textLength="23.8" lengthAdjust="spacingAndGlyphs" font-family="Liberation Sans, sans-serif">06:00</text><text x="1384.6" y="672.7" font-size="10" fill="#7c7c7c" textLength="23.8" lengthAdjust="spacingAndGlyphs" font-family="Liberation Sans, sans-serif">10:00</text><text x="1442.1" y="672.7" font-size="10" fill="#7c7c7c" textLength="23.8" lengthAdjust="spacingAndGlyphs" font-family="Liberation Sans, sans-serif">14:00</text><text x="1499.7" y="672.7" font-size="10" fill="#7c7c7c" textLength="23.8" lengthAdjust="spacingAndGlyphs" font-family="Liberation Sans, sans-serif">18:00</text><text x="1557.5" y="672.7" font-size="10" fill="#7c7c7c" textLength="23.8" lengthAdjust="spacingAndGlyphs" font-family="Liberation Sans, sans-serif">22:00</text><text x="1672.4" y="672.7" font-size="10" fill="#7c7c7c" textLength="23.8" lengthAdjust="spacingAndGlyphs" font-family="Liberation Sans, sans-serif">06:00</text><text x="1729.9" y="672.7" font-size="10" fill="#7c7c7c" textLength="23.8" lengthAdjust="spacingAndGlyphs" font-family="Liberation Sans, sans-serif">10:00</text><text x="2.0" y="672.7" font-size="10" fill="#7c7c7c" textLength="52" lengthAdjust="spacingAndGlyphs" font-family="Liberation Sans, sans-serif">19 Jun 2014</text><text x="233.0" y="672.7" font-size="10" fill="#7c7c7c" textLength="31" lengthAdjust="spacingAndGlyphs" font-family="Liberation Sans, sans-serif">20. Jun</text><text x="578.5" y="672.7" font-size="10" fill="#7c7c7c" textLength="31" lengthAdjust="spacingAndGlyphs" font-family="Liberation Sans, sans-serif">21. Jun</text><text x="924.0" y="672.7" font-size="10" fill="#7c7c7c" textLength="31" lengthAdjust="spacingAndGlyphs" font-family="Liberation Sans, sans-serif">22. Jun</text><text x="1269.3" y="672.7" font-size="10" fill="#7c7c7c" textLength="31" lengthAdjust="spacingAndGlyphs" font-family="Liberation Sans, sans-serif">23. Jun</text><text x="1615.0" y="672.7" font-size="10" fill="#7c7c7c" textLength="31" lengthAdjust="spacingAndGlyphs" font-family="Liberation Sans, sans-serif">24. Jun</text><text x="6.0" y="692.0" font-size="11" fill="#f2f2f2" textLength="104" lengthAdjust="spacingAndGlyphs" font-family="Liberation Sans, sans-serif">Relative Strength Index</text><rect x="0" y="706" width="1765" height="1" fill="#3f8f3f"/><rect x="0" y="887" width="1765" height="1" fill="#c8443a"/><polyline points="2.9,786.8 10.1,775.5 17.3,794.6 24.5,785.8 31.7,782.9 38.9,776.0 46.1,809.4 53.3,831.9 60.5,803.5 67.7,734.9 74.9,749.9 82.1,771.0 89.3,748.2 96.5,746.4 103.7,749.3 110.9,710.7 118.1,708.4 125.3,706.3 132.4,714.5 139.6,715.2 146.8,704.5 154.0,684.8 161.2,712.0 168.4,739.5 175.6,745.6 182.8,745.6 190.0,768.3 197.2,774.6 204.4,763.5 211.6,749.5 218.8,759.7 226.0,741.7 233.2,738.3 240.4,736.4 247.6,760.6 254.8,750.4 262.0,788.2 269.2,795.6 276.4,771.4 283.6,771.4 290.8,785.2 298.0,806.7 305.2,809.5 312.4,801.9 319.6,793.1 326.8,758.2 334.0,773.8 341.2,759.5 348.4,745.1 355.6,742.9 362.8,693.3 370.0,685.9 377.1,687.6 384.3,704.5 391.5,700.4 398.7,695.0 405.9,695.7 413.1,716.2 420.3,715.7 427.5,704.2 434.7,708.8 441.9,703.0 449.1,732.6 456.3,758.9 463.5,758.1 470.7,809.2 477.9,834.2 485.1,828.0 492.3,859.5 499.5,880.7 506.7,880.7 513.9,830.8 521.1,839.6 528.3,832.6 535.5,742.2 542.7,816.4 549.9,889.7 557.1,828.6 564.3,849.3 571.5,872.5 578.7,843.3 585.9,793.5 593.1,840.3 600.3,860.5 607.5,885.1 614.7,872.6 621.9,841.8 629.0,853.9 636.2,839.3 643.4,840.5 650.6,805.8 657.8,788.6 665.0,780.3 672.2,765.3 679.4,743.8 686.6,755.6 693.8,747.3 701.0,757.3 708.2,760.1 715.4,754.2 722.6,774.7 729.8,774.4 737.0,815.6 744.2,803.3 751.4,775.5 758.6,784.9 765.8,825.2 773.0,817.7 780.2,829.6 787.4,806.7 794.6,824.0 801.8,826.0 809.0,799.4 816.2,798.7 823.4,798.4 830.6,798.7 837.8,773.1 845.0,729.6 852.2,730.8 859.4,736.6 866.6,717.0 873.8,728.0 880.9,733.0 888.1,750.8 895.3,736.1 902.5,712.5 909.7,757.6 916.9,755.3 924.1,749.6 931.3,767.2 938.5,781.9 945.7,787.9 952.9,768.8 960.1,827.1 967.3,838.8 974.5,839.9 981.7,822.0 988.9,824.9 996.1,813.6 1003.3,813.0 1010.5,816.1 1017.7,827.6 1024.9,827.6 1032.1,810.1 1039.3,826.7 1046.5,813.3 1053.7,844.9 1060.9,857.4 1068.1,799.7 1075.3,754.8 1082.5,766.7 1089.7,765.4 1096.9,755.1 1104.1,773.1 1111.3,782.6 1118.5,831.3 1125.6,811.3 1132.8,832.6 1140.0,842.8 1147.2,827.2 1154.4,844.9 1161.6,860.3 1168.8,864.5 1176.0,854.9 1183.2,858.7 1190.4,854.7 1197.6,856.5 1204.8,826.7 1212.0,806.0 1219.2,769.0 1226.4,793.7 1233.6,772.0 1240.8,782.9 1248.0,774.6 1255.2,776.5 1262.4,771.0 1269.6,774.2 1276.8,776.8 1284.0,780.1 1291.2,782.0 1298.4,789.4 1305.6,812.5 1312.8,825.8 1320.0,830.2 1327.2,824.4 1334.4,830.4 1341.6,840.7 1348.8,824.0 1356.0,827.6 1363.2,838.2 1370.4,841.7 1377.5,839.9 1384.7,849.5 1391.9,852.5 1399.1,861.0 1406.3,843.0 1413.5,836.8 1420.7,831.7 1427.9,851.0 1435.1,830.4 1442.3,835.8 1449.5,841.3 1456.7,815.6 1463.9,813.0 1471.1,802.7 1478.3,771.4 1485.5,766.8 1492.7,755.6 1499.9,720.1 1507.1,736.7 1514.3,743.1 1521.5,737.5 1528.7,752.4 1535.9,737.6 1543.1,750.1 1550.3,736.7 1557.5,728.3 1564.7,743.6 1571.9,741.7 1579.1,738.8 1586.3,763.5 1593.5,802.0 1600.7,776.0 1607.9,759.3 1615.1,751.4 1622.2,736.0 1629.4,765.8 1636.6,769.2 1643.8,785.9 1651.0,777.7 1658.2,797.3 1665.4,814.7 1672.6,797.4 1679.8,790.1 1687.0,818.4 1694.2,831.7 1701.4,822.5 1708.6,822.5 1715.8,785.1 1723.0,802.1 1730.2,756.0 1737.4,737.3 1744.6,739.4" fill="none" stroke="#cacaca" stroke-width="1.2" stroke-linejoin="miter"/><text x="1770.8" y="709.1" font-size="11" fill="#7c7c7c" textLength="23.4" lengthAdjust="spacingAndGlyphs" font-family="Liberation Sans, sans-serif">70.15</text><text x="1770.8" y="736.1" font-size="11" fill="#7c7c7c" textLength="23.4" lengthAdjust="spacingAndGlyphs" font-family="Liberation Sans, sans-serif">64.16</text><text x="1770.8" y="763.0" font-size="11" fill="#7c7c7c" textLength="23.4" lengthAdjust="spacingAndGlyphs" font-family="Liberation Sans, sans-serif">58.16</text><text x="1770.8" y="790.0" font-size="11" fill="#7c7c7c" textLength="23.4" lengthAdjust="spacingAndGlyphs" font-family="Liberation Sans, sans-serif">52.17</text><text x="1770.8" y="817.0" font-size="11" fill="#7c7c7c" textLength="23.4" lengthAdjust="spacingAndGlyphs" font-family="Liberation Sans, sans-serif">46.17</text><text x="1770.8" y="844.0" font-size="11" fill="#7c7c7c" textLength="23.4" lengthAdjust="spacingAndGlyphs" font-family="Liberation Sans, sans-serif">40.18</text><text x="1770.8" y="870.9" font-size="11" fill="#7c7c7c" textLength="23.4" lengthAdjust="spacingAndGlyphs" font-family="Liberation Sans, sans-serif">34.18</text><path d="M1796,679.5 L1804,687.5 M1804,679.5 L1796,687.5" stroke="#a0a0a0" stroke-width="1.1"/><rect x="9" y="39" width="112" height="17" fill="#b5504a"/><text x="14.3" y="51.0" font-size="11" fill="#f4e8e6" textLength="31" lengthAdjust="spacingAndGlyphs" font-family="Liberation Sans, sans-serif">1.9551</text><text x="84.0" y="51.0" font-size="11" fill="#f4e8e6" textLength="31.5" lengthAdjust="spacingAndGlyphs" font-family="Liberation Sans, sans-serif">1.9564</text><path d="M64.8,44.3 V50" stroke="#f0d8d4" stroke-width="1.3" fill="none"/><path d="M61.3,47.4 L64.8,50.7 L68.5,47.4" stroke="#fbf4f2" stroke-width="1.5" fill="none" stroke-linecap="round"/><rect x="136.5" y="39.5" width="15" height="16" rx="3" fill="none" stroke="#575757" stroke-width="1"/><rect x="159.5" y="39.5" width="15" height="16" rx="3" fill="none" stroke="#575757" stroke-width="1"/><rect x="212.5" y="39.5" width="15" height="16" rx="3" fill="none" stroke="#575757" stroke-width="1"/><rect x="235.0" y="39.5" width="15" height="16" rx="3" fill="none" stroke="#575757" stroke-width="1"/><rect x="257.5" y="39.5" width="15" height="16" rx="3" fill="none" stroke="#575757" stroke-width="1"/><rect x="280.0" y="39.5" width="15" height="16" rx="3" fill="none" stroke="#575757" stroke-width="1"/><rect x="302.0" y="39.5" width="15" height="16" rx="3" fill="none" stroke="#575757" stroke-width="1"/><rect x="324.0" y="39.5" width="15" height="16" rx="3" fill="none" stroke="#575757" stroke-width="1"/><circle cx="143" cy="46.8" r="3.6" fill="none" stroke="#b4b4b4" stroke-width="1"/><path d="M145.6,49.5 L148.6,52.5" stroke="#b4b4b4" stroke-width="1.1"/><rect x="141.6" y="46.3" width="2.8" height="1" fill="#888"/><circle cx="166" cy="46.2" r="3.6" fill="none" stroke="#b4b4b4" stroke-width="1"/><path d="M168.6,49 L171.6,52" stroke="#b4b4b4" stroke-width="1.1"/><circle cx="166" cy="46.2" r="1" fill="#999"/><path d="M200.5,39.5 H192.6 Q189.6,39.5 189.6,42.5 V52.5 Q189.6,55.5 192.6,55.5 H201.6 Q204.6,55.5 204.6,52.5 V45" fill="none" stroke="#575757" stroke-width="1"/><text x="191.8" y="50.6" font-size="9" fill="#a8a8a8" textLength="10.5" lengthAdjust="spacingAndGlyphs" font-family="Liberation Sans, sans-serif">30</text><rect x="201" y="39" width="4.5" height="3" fill="#9a9a9a"/><rect x="201" y="40.2" width="4.5" height="0.6" fill="#333"/><path d="M216.5,43 V53 M223.5,44 V52" stroke="#b4b4b4" stroke-width="1"/><ellipse cx="216.5" cy="47.8" rx="1.2" ry="1.8" fill="#252525" stroke="#b4b4b4" stroke-width="0.9"/><rect x="218.8" y="41.6" width="2.6" height="9" fill="#8a8a8a"/><circle cx="223.5" cy="49.3" r="1.3" fill="#252525" stroke="#b4b4b4" stroke-width="0.9"/><path d="M237.3,44.4 H246.8 M237.3,48 H246.8 M237.3,51.6 H246.8" stroke="#b4b4b4" stroke-width="1"/><rect x="241" y="43" width="2" height="3" fill="#b4b4b4"/><path d="M243.5,46.3 L246,48 L243.5,49.7Z" fill="#b4b4b4"/><rect x="239.3" y="50.2" width="2" height="3" fill="#b4b4b4"/><path d="M262,43 H260.3 V52.5 H269.7 V48 M266,43 H269.7 V45" fill="none" stroke="#b4b4b4" stroke-width="1"/><path d="M261.5,49.5 L264,47 L266,49 L269,45" fill="none" stroke="#b4b4b4" stroke-width="1"/><rect x="283.5" y="43" width="4.5" height="6.2" rx="0.8" fill="none" stroke="#b4b4b4" stroke-width="1"/><rect x="286.3" y="46.2" width="4.5" height="6.2" rx="0.8" fill="#252525" stroke="#b4b4b4" stroke-width="1"/><path d="M307.5,42.5 H304.5 V51.8 H313.5 V48.9" fill="none" stroke="#b4b4b4" stroke-width="1"/><path d="M307.6,49 L308.2,47 L312.5,42.8 L313.8,44.1 L309.5,48.4 Z" fill="none" stroke="#b4b4b4" stroke-width="0.9"/><path d="M326.5,50 L328.5,48 L333,43.5 L335,45.5 L330.5,50 L328.5,50.5 Z" fill="#9a9a9a" stroke="#b4b4b4" stroke-width="0.8"/><rect x="326.3" y="52" width="9.3" height="1" fill="#b4b4b4"/></svg>
</body></html>
